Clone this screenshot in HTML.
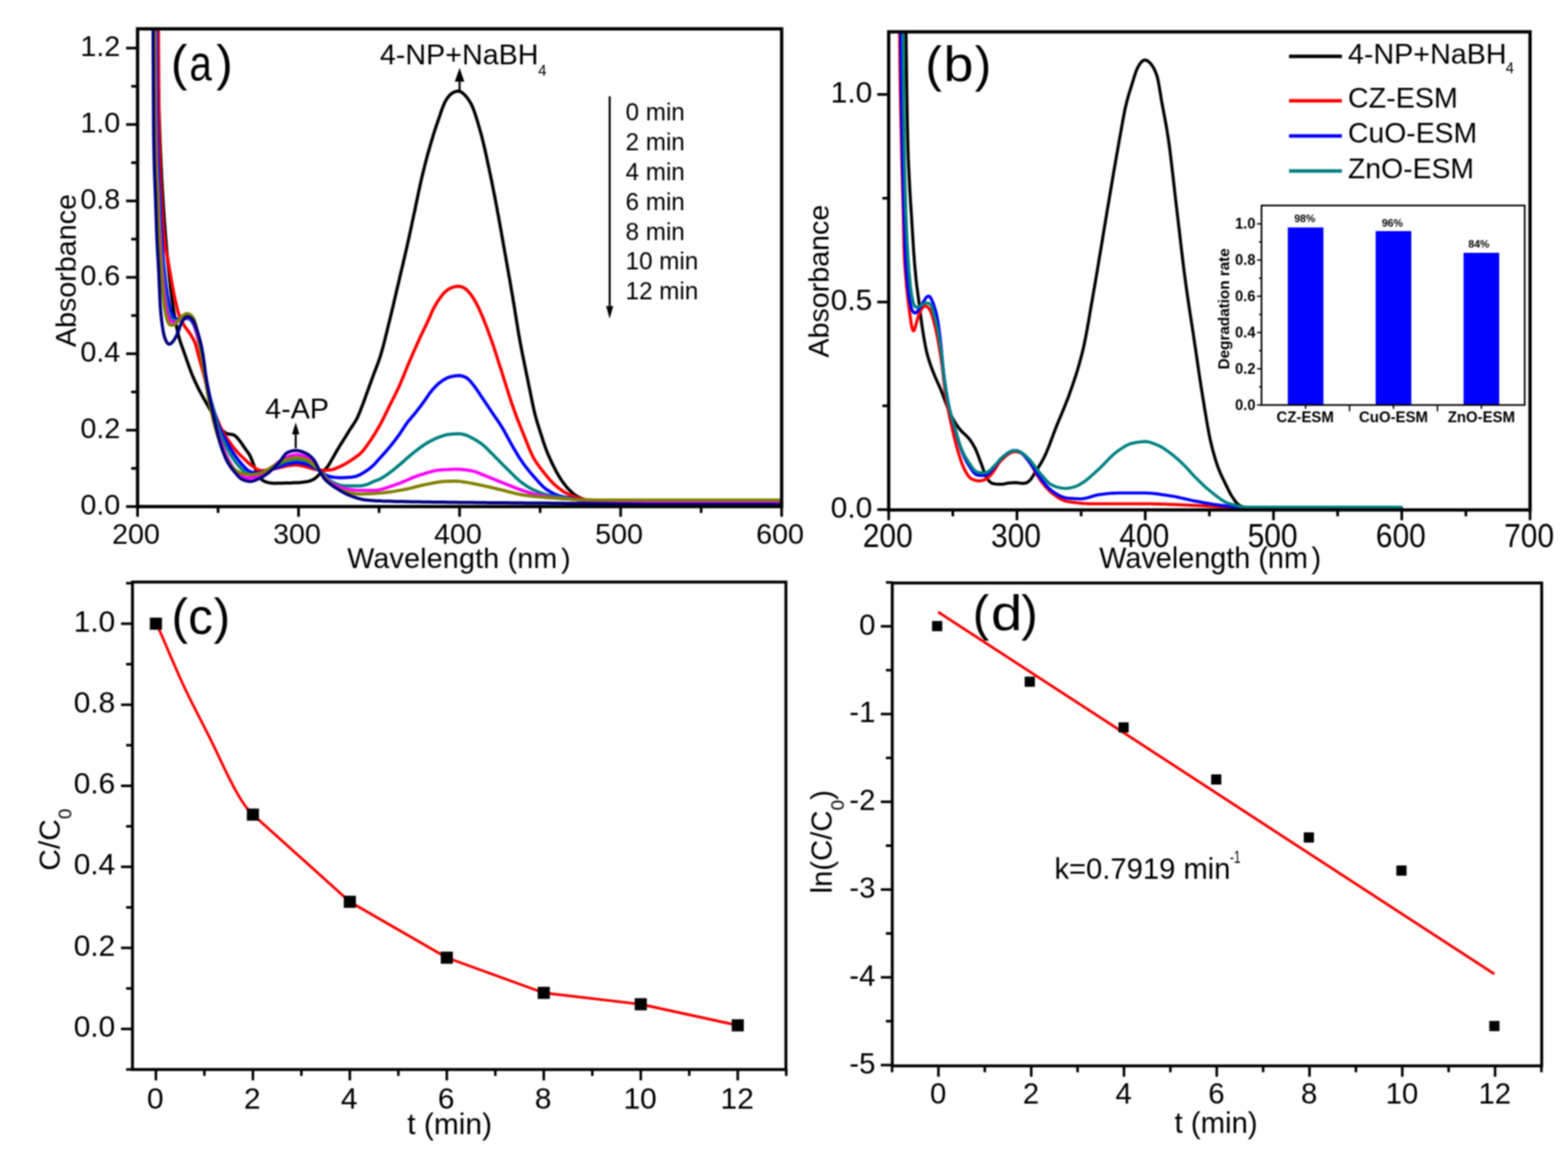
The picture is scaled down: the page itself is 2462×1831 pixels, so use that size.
<!DOCTYPE html>
<html><head><meta charset="utf-8"><title>Figure</title>
<style>html,body{margin:0;padding:0;background:#fff;overflow:hidden;} svg{display:block;filter:blur(1px)} text{font-family:'Liberation Sans',Arial,sans-serif;fill:#000}</style>
</head><body>
<svg width="2462" height="1831" viewBox="0 0 2462 1831">
<rect width="2462" height="1831" fill="#fff"/>
<clipPath id="ca"><rect x="216.0" y="45.3" width="1011.3" height="750.2"/></clipPath>
<clipPath id="cb"><rect x="1395.4" y="50.0" width="1007.0" height="750.8"/></clipPath>
<g id="pa">
<path d="M245.3,-74.5 L245.4,-71.5 L245.4,-68.5 L245.4,-65.5 L245.5,-62.5 L245.5,-59.5 L245.6,-56.5 L245.6,-53.5 L245.6,-50.5 L245.7,-47.5 L245.7,-44.5 L245.8,-41.5 L245.8,-38.5 L245.9,-35.5 L245.9,-32.5 L245.9,-29.5 L246.0,-26.5 L246.0,-23.5 L246.1,-20.5 L246.1,-17.5 L246.1,-14.5 L246.2,-11.5 L246.2,-8.5 L246.3,-5.5 L246.3,-2.5 L246.4,0.5 L246.4,3.5 L246.5,6.5 L246.5,9.5 L246.5,12.5 L246.6,15.5 L246.6,18.5 L246.7,21.5 L246.7,24.5 L246.8,27.5 L246.8,30.5 L246.9,33.5 L246.9,36.5 L247.0,39.5 L247.0,42.5 L247.1,45.5 L247.1,48.5 L247.2,51.5 L247.2,54.5 L247.3,57.5 L247.3,60.5 L247.4,63.5 L247.4,66.5 L247.5,69.5 L247.5,72.5 L247.6,75.5 L247.7,78.5 L247.7,81.5 L247.8,84.5 L247.8,87.5 L247.9,90.5 L248.0,93.5 L248.0,96.5 L248.1,99.5 L248.1,102.5 L248.2,105.5 L248.3,108.5 L248.3,111.5 L248.4,114.5 L248.4,117.5 L248.5,120.5 L248.6,123.5 L248.6,126.5 L248.7,129.5 L248.8,132.5 L248.8,135.5 L248.9,138.5 L249.0,141.5 L249.0,144.5 L249.1,147.5 L249.2,150.5 L249.2,153.5 L249.3,156.5 L249.4,159.5 L249.5,162.5 L249.5,165.5 L249.6,168.5 L249.7,171.5 L249.8,174.5 L249.9,177.5 L249.9,180.5 L250.0,183.5 L250.1,186.5 L250.2,189.5 L250.3,192.5 L250.4,195.4 L250.5,198.4 L250.6,201.4 L250.7,204.4 L250.8,207.4 L250.9,210.4 L251.0,213.4 L251.1,216.4 L251.2,219.4 L251.3,222.4 L251.4,225.4 L251.6,228.4 L251.7,231.4 L251.8,234.4 L251.9,237.4 L252.1,240.4 L252.2,243.4 L252.3,246.4 L252.5,249.4 L252.6,252.4 L252.7,255.4 L252.9,258.4 L253.0,261.4 L253.2,264.4 L253.3,267.4 L253.5,270.4 L253.6,273.4 L253.8,276.4 L253.9,279.4 L254.1,282.4 L254.2,285.4 L254.4,288.4 L254.6,291.4 L254.7,294.4 L254.9,297.3 L255.1,300.3 L255.3,303.3 L255.4,306.3 L255.6,309.3 L255.8,312.3 L256.0,315.3 L256.2,318.3 L256.4,321.3 L256.6,324.3 L256.8,327.3 L257.0,330.3 L257.2,333.3 L257.4,336.3 L257.6,339.3 L257.8,342.3 L258.0,345.2 L258.2,348.2 L258.5,351.2 L258.7,354.2 L258.9,357.2 L259.1,360.2 L259.4,363.2 L259.6,366.2 L259.8,369.2 L260.0,372.2 L260.3,375.2 L260.5,378.1 L260.8,381.1 L261.0,384.1 L261.3,387.1 L261.5,390.1 L261.8,393.1 L262.1,396.1 L262.3,399.1 L262.6,402.1 L262.9,405.0 L263.2,408.0 L263.5,411.0 L263.8,414.0 L264.1,417.0 L264.4,420.0 L264.7,423.0 L265.0,425.9 L265.3,428.9 L265.6,431.9 L265.9,434.9 L266.2,437.9 L266.5,440.9 L266.9,443.8 L267.2,446.8 L267.5,449.8 L267.9,452.8 L268.2,455.8 L268.6,458.7 L269.0,461.7 L269.3,464.7 L269.7,467.7 L270.1,470.6 L270.5,473.6 L271.0,476.6 L271.4,479.6 L271.9,482.5 L272.3,485.5 L272.8,488.4 L273.3,491.4 L273.8,494.4 L274.3,497.3 L274.8,500.3 L275.3,503.2 L275.9,506.2 L276.4,509.1 L277.0,512.1 L277.6,515.0 L278.3,517.9 L278.9,520.9 L279.6,523.8 L280.3,526.7 L281.1,529.6 L281.9,532.5 L282.8,535.4 L283.7,538.2 L284.7,541.1 L285.6,543.9 L286.7,546.7 L287.7,549.5 L288.7,552.3 L289.7,555.2 L290.7,558.0 L291.7,560.8 L292.6,563.7 L293.6,566.5 L294.6,569.4 L295.6,572.2 L296.6,575.0 L297.6,577.8 L298.7,580.6 L299.7,583.4 L300.8,586.2 L301.9,589.0 L303.1,591.8 L304.3,594.6 L305.5,597.3 L306.7,600.0 L308.0,602.8 L309.3,605.5 L310.6,608.2 L311.9,610.9 L313.3,613.5 L314.7,616.2 L316.1,618.8 L317.6,621.4 L319.0,624.1 L320.5,626.7 L322.0,629.3 L323.5,631.9 L324.9,634.5 L326.4,637.1 L327.9,639.7 L329.4,642.3 L330.9,644.9 L332.4,647.5 L333.8,650.2 L335.1,652.8 L336.5,655.5 L337.8,658.2 L339.1,660.9 L340.4,663.6 L341.9,666.2 L343.5,668.7 L345.3,671.2 L347.1,673.5 L349.1,675.8 L351.3,677.8 L353.7,679.6 L356.3,680.9 L359.1,681.6 L362.1,682.0 L365.0,682.4 L367.8,683.4 L370.1,685.1 L372.2,687.3 L374.2,689.5 L376.1,691.8 L377.9,694.2 L379.6,696.7 L381.3,699.2 L382.9,701.7 L384.7,704.1 L386.4,706.6 L388.2,709.0 L390.0,711.4 L391.6,713.9 L393.0,716.6 L394.3,719.3 L395.4,722.1 L396.4,724.9 L397.5,727.7 L398.5,730.5 L399.6,733.3 L400.7,736.1 L401.8,738.9 L403.0,741.6 L404.3,744.3 L405.8,746.9 L407.5,749.4 L409.5,751.6 L411.6,753.7 L414.1,755.3 L416.8,756.5 L419.6,757.4 L422.6,758.1 L425.5,758.6 L428.5,758.8 L431.5,758.9 L434.5,758.8 L437.5,758.8 L440.5,758.7 L443.5,758.7 L446.5,758.6 L449.5,758.5 L452.5,758.4 L455.5,758.4 L458.5,758.3 L461.5,758.1 L464.5,758.0 L467.5,757.9 L470.5,757.7 L473.5,757.4 L476.4,757.1 L479.4,756.7 L482.4,756.2 L485.3,755.6 L488.1,754.6 L490.9,753.5 L493.5,752.0 L495.9,750.3 L498.1,748.2 L500.2,746.1 L502.3,744.0 L504.6,742.0 L506.9,740.1 L509.2,738.2 L511.4,736.2 L513.4,734.0 L515.2,731.6 L516.8,729.0 L518.3,726.4 L519.8,723.8 L521.3,721.2 L522.8,718.6 L524.3,716.0 L525.7,713.4 L527.2,710.8 L528.7,708.2 L530.2,705.6 L531.8,703.0 L533.3,700.5 L534.9,697.9 L536.5,695.4 L538.1,692.9 L539.7,690.3 L541.3,687.8 L542.9,685.2 L544.4,682.7 L546.0,680.1 L547.6,677.5 L549.2,675.0 L550.8,672.5 L552.5,670.0 L554.2,667.5 L555.8,665.0 L557.4,662.5 L558.9,659.9 L560.4,657.3 L561.7,654.6 L562.9,651.8 L564.1,649.1 L565.2,646.3 L566.3,643.5 L567.4,640.7 L568.5,637.9 L569.6,635.1 L570.6,632.3 L571.7,629.5 L572.7,626.7 L573.7,623.8 L574.7,621.0 L575.7,618.2 L576.7,615.4 L577.7,612.5 L578.8,609.7 L579.8,606.9 L580.8,604.1 L581.8,601.3 L582.9,598.4 L583.9,595.6 L584.9,592.8 L585.9,590.0 L587.0,587.2 L588.0,584.4 L589.1,581.6 L590.2,578.8 L591.3,576.0 L592.3,573.2 L593.4,570.4 L594.4,567.5 L595.4,564.7 L596.4,561.9 L597.3,559.0 L598.2,556.1 L599.0,553.3 L599.8,550.4 L600.6,547.5 L601.4,544.6 L602.2,541.7 L602.9,538.8 L603.7,535.9 L604.4,533.0 L605.1,530.1 L605.8,527.1 L606.6,524.2 L607.3,521.3 L608.0,518.4 L608.7,515.5 L609.4,512.6 L610.1,509.7 L610.8,506.8 L611.6,503.8 L612.3,500.9 L613.0,498.0 L613.7,495.1 L614.4,492.2 L615.1,489.3 L615.8,486.3 L616.5,483.4 L617.2,480.5 L617.9,477.6 L618.5,474.7 L619.2,471.7 L619.9,468.8 L620.6,465.9 L621.3,463.0 L622.0,460.1 L622.6,457.1 L623.3,454.2 L624.0,451.3 L624.7,448.4 L625.4,445.5 L626.1,442.5 L626.8,439.6 L627.4,436.7 L628.1,433.8 L628.8,430.9 L629.5,427.9 L630.2,425.0 L630.9,422.1 L631.6,419.2 L632.3,416.3 L633.0,413.3 L633.6,410.4 L634.3,407.5 L635.0,404.6 L635.7,401.6 L636.4,398.7 L637.0,395.8 L637.7,392.9 L638.4,390.0 L639.0,387.0 L639.7,384.1 L640.3,381.2 L641.0,378.2 L641.6,375.3 L642.3,372.4 L642.9,369.4 L643.5,366.5 L644.2,363.6 L644.8,360.7 L645.4,357.7 L646.1,354.8 L646.7,351.8 L647.3,348.9 L647.9,346.0 L648.6,343.0 L649.2,340.1 L649.8,337.2 L650.4,334.2 L651.1,331.3 L651.7,328.4 L652.3,325.4 L652.9,322.5 L653.5,319.6 L654.1,316.6 L654.8,313.7 L655.4,310.8 L656.0,307.8 L656.6,304.9 L657.2,301.9 L657.8,299.0 L658.5,296.1 L659.1,293.1 L659.7,290.2 L660.4,287.3 L661.1,284.4 L661.7,281.4 L662.4,278.5 L663.1,275.6 L663.8,272.7 L664.5,269.8 L665.2,266.9 L666.0,263.9 L666.7,261.0 L667.4,258.1 L668.2,255.2 L668.9,252.3 L669.7,249.4 L670.5,246.5 L671.2,243.6 L672.0,240.7 L672.8,237.8 L673.7,234.9 L674.5,232.1 L675.3,229.2 L676.1,226.3 L677.0,223.4 L677.8,220.5 L678.7,217.7 L679.6,214.8 L680.4,211.9 L681.3,209.1 L682.2,206.2 L683.2,203.3 L684.1,200.5 L685.0,197.7 L686.0,194.8 L687.0,192.0 L688.0,189.1 L688.9,186.3 L689.9,183.5 L690.9,180.6 L691.8,177.8 L692.8,174.9 L693.8,172.1 L694.9,169.3 L695.9,166.5 L697.1,163.7 L698.3,161.0 L699.7,158.3 L701.2,155.8 L702.9,153.3 L704.8,151.0 L706.8,148.8 L709.1,146.8 L711.6,145.3 L714.3,144.1 L717.2,143.3 L720.1,143.1 L722.9,143.8 L725.4,145.3 L727.6,147.2 L729.8,149.3 L731.9,151.5 L733.7,153.8 L735.5,156.2 L737.1,158.8 L738.7,161.3 L740.1,164.0 L741.4,166.7 L742.5,169.4 L743.6,172.2 L744.7,175.0 L745.7,177.9 L746.6,180.7 L747.5,183.6 L748.4,186.4 L749.3,189.3 L750.2,192.2 L751.0,195.1 L751.8,198.0 L752.7,200.8 L753.5,203.7 L754.3,206.6 L755.1,209.5 L755.9,212.4 L756.7,215.3 L757.4,218.2 L758.1,221.1 L758.8,224.0 L759.5,226.9 L760.2,229.9 L760.9,232.8 L761.6,235.7 L762.2,238.6 L762.9,241.6 L763.5,244.5 L764.1,247.4 L764.8,250.4 L765.4,253.3 L766.0,256.2 L766.6,259.2 L767.3,262.1 L767.9,265.0 L768.5,268.0 L769.2,270.9 L769.8,273.8 L770.4,276.8 L771.0,279.7 L771.6,282.7 L772.2,285.6 L772.8,288.5 L773.4,291.5 L774.0,294.4 L774.5,297.4 L775.1,300.3 L775.7,303.2 L776.3,306.2 L776.9,309.1 L777.4,312.1 L778.0,315.0 L778.6,318.0 L779.1,320.9 L779.7,323.9 L780.2,326.8 L780.8,329.8 L781.3,332.7 L781.9,335.7 L782.4,338.6 L783.0,341.6 L783.5,344.5 L784.0,347.5 L784.6,350.4 L785.1,353.4 L785.6,356.3 L786.1,359.3 L786.7,362.2 L787.2,365.2 L787.7,368.1 L788.2,371.1 L788.8,374.0 L789.3,377.0 L789.8,380.0 L790.3,382.9 L790.8,385.9 L791.4,388.8 L791.9,391.8 L792.4,394.7 L792.9,397.7 L793.5,400.6 L794.0,403.6 L794.5,406.5 L795.0,409.5 L795.6,412.5 L796.1,415.4 L796.6,418.4 L797.1,421.3 L797.7,424.3 L798.2,427.2 L798.7,430.2 L799.2,433.1 L799.7,436.1 L800.3,439.0 L800.8,442.0 L801.3,444.9 L801.8,447.9 L802.3,450.9 L802.8,453.8 L803.3,456.8 L803.8,459.7 L804.4,462.7 L804.9,465.6 L805.4,468.6 L805.8,471.6 L806.3,474.5 L806.8,477.5 L807.3,480.4 L807.8,483.4 L808.3,486.4 L808.7,489.3 L809.2,492.3 L809.7,495.3 L810.2,498.2 L810.6,501.2 L811.1,504.1 L811.6,507.1 L812.1,510.1 L812.6,513.0 L813.0,516.0 L813.5,518.9 L814.0,521.9 L814.5,524.9 L815.1,527.8 L815.6,530.8 L816.1,533.7 L816.6,536.7 L817.2,539.6 L817.7,542.6 L818.3,545.5 L818.9,548.5 L819.4,551.4 L820.0,554.4 L820.6,557.3 L821.2,560.2 L821.8,563.2 L822.4,566.1 L823.0,569.1 L823.6,572.0 L824.2,574.9 L824.8,577.9 L825.4,580.8 L826.0,583.8 L826.6,586.7 L827.2,589.6 L827.8,592.6 L828.4,595.5 L829.0,598.4 L829.6,601.4 L830.2,604.3 L830.8,607.3 L831.4,610.2 L832.0,613.1 L832.6,616.1 L833.2,619.0 L833.8,622.0 L834.4,624.9 L835.0,627.8 L835.6,630.8 L836.2,633.7 L836.8,636.7 L837.5,639.6 L838.1,642.5 L838.8,645.4 L839.5,648.4 L840.2,651.3 L841.0,654.2 L841.8,657.1 L842.6,660.0 L843.4,662.8 L844.3,665.7 L845.2,668.6 L846.1,671.4 L847.0,674.3 L847.9,677.1 L848.8,680.0 L849.8,682.8 L850.7,685.7 L851.6,688.6 L852.5,691.4 L853.4,694.3 L854.4,697.1 L855.4,700.0 L856.4,702.8 L857.4,705.6 L858.5,708.4 L859.6,711.2 L860.8,713.9 L862.0,716.7 L863.2,719.4 L864.4,722.2 L865.7,724.9 L867.0,727.6 L868.3,730.3 L869.6,733.0 L871.0,735.7 L872.3,738.3 L873.7,741.0 L875.2,743.6 L876.7,746.2 L878.3,748.8 L879.9,751.3 L881.5,753.8 L883.2,756.3 L885.0,758.7 L886.8,761.1 L888.6,763.5 L890.5,765.8 L892.6,768.0 L894.7,770.1 L896.8,772.2 L899.1,774.2 L901.4,776.1 L903.8,777.9 L906.3,779.5 L908.9,780.9 L911.7,782.1 L914.5,783.3 L917.3,784.2 L920.2,785.1 L923.1,785.7 L926.1,786.2 L929.0,786.6 L932.0,786.9 L935.0,787.2 L938.0,787.5 L941.0,787.7 L944.0,788.0 L947.0,788.2 L949.9,788.3 L952.9,788.5 L955.9,788.7 L958.9,788.9 L961.9,789.1 L964.9,789.2 L967.9,789.4 L970.9,789.4 L973.9,789.5 L976.9,789.5 L979.9,789.5 L982.9,789.5 L985.9,789.5 L988.9,789.5 L991.9,789.5 L994.9,789.5 L997.9,789.5 L1000.9,789.5 L1003.9,789.5 L1006.9,789.5 L1009.9,789.5 L1012.9,789.5 L1015.9,789.5 L1018.9,789.5 L1021.9,789.5 L1024.9,789.5 L1027.9,789.5 L1030.9,789.5 L1033.9,789.5 L1036.9,789.5 L1039.9,789.5 L1042.9,789.5 L1045.9,789.5 L1048.9,789.5 L1051.9,789.5 L1054.9,789.5 L1057.9,789.5 L1060.9,789.5 L1063.9,789.5 L1066.9,789.5 L1069.9,789.5 L1072.9,789.5 L1075.9,789.5 L1078.9,789.5 L1081.9,789.5 L1084.9,789.5 L1087.9,789.5 L1090.9,789.5 L1093.9,789.5 L1096.9,789.5 L1099.9,789.5 L1102.9,789.5 L1105.9,789.5 L1108.9,789.5 L1111.9,789.5 L1114.9,789.5 L1117.9,789.5 L1120.9,789.5 L1123.9,789.5 L1126.9,789.5 L1129.9,789.5 L1132.9,789.5 L1135.9,789.5 L1138.9,789.5 L1141.9,789.5 L1144.9,789.5 L1147.9,789.5 L1150.9,789.5 L1153.9,789.5 L1156.9,789.5 L1159.9,789.5 L1162.9,789.5 L1165.9,789.5 L1168.9,789.5 L1171.9,789.5 L1174.9,789.5 L1177.9,789.5 L1180.9,789.5 L1183.9,789.5 L1186.9,789.5 L1189.9,789.5 L1192.9,789.5 L1195.9,789.5 L1198.9,789.5 L1201.9,789.5 L1204.9,789.5 L1207.9,789.5 L1210.9,789.5 L1213.9,789.5 L1216.9,789.5 L1219.9,789.5 L1222.9,789.5 L1225.9,789.5 L1226.9,789.5" fill="none" stroke="#000000" stroke-width="5.0" stroke-linejoin="round" stroke-linecap="round" clip-path="url(#ca)"/>
<path d="M247.9,-74.5 L247.9,-71.5 L247.9,-68.5 L247.9,-65.5 L247.9,-62.5 L248.0,-59.5 L248.0,-56.5 L248.0,-53.5 L248.0,-50.5 L248.0,-47.5 L248.1,-44.5 L248.1,-41.5 L248.1,-38.5 L248.1,-35.5 L248.1,-32.5 L248.1,-29.5 L248.2,-26.5 L248.2,-23.5 L248.2,-20.5 L248.2,-17.5 L248.2,-14.5 L248.3,-11.5 L248.3,-8.5 L248.3,-5.5 L248.3,-2.5 L248.3,0.5 L248.4,3.5 L248.4,6.5 L248.4,9.5 L248.4,12.5 L248.4,15.5 L248.5,18.5 L248.5,21.5 L248.5,24.5 L248.5,27.5 L248.6,30.5 L248.6,33.5 L248.6,36.5 L248.6,39.5 L248.6,42.5 L248.7,45.5 L248.7,48.5 L248.7,51.5 L248.7,54.5 L248.7,57.5 L248.8,60.5 L248.8,63.5 L248.8,66.5 L248.8,69.5 L248.8,72.5 L248.9,75.5 L248.9,78.5 L248.9,81.5 L248.9,84.5 L248.9,87.5 L249.0,90.5 L249.0,93.5 L249.0,96.5 L249.0,99.5 L249.0,102.5 L249.1,105.5 L249.1,108.5 L249.1,111.5 L249.1,114.5 L249.1,117.5 L249.2,120.5 L249.2,123.5 L249.2,126.5 L249.2,129.5 L249.2,132.5 L249.3,135.5 L249.3,138.5 L249.3,141.5 L249.3,144.5 L249.3,147.5 L249.4,150.5 L249.4,153.5 L249.4,156.5 L249.4,159.5 L249.4,162.5 L249.5,165.5 L249.5,168.5 L249.5,171.5 L249.5,174.5 L249.5,177.5 L249.6,180.5 L249.6,183.5 L249.6,186.5 L249.6,189.5 L249.7,192.5 L249.7,195.5 L249.8,198.5 L249.8,201.5 L249.8,204.5 L249.9,207.5 L249.9,210.5 L250.0,213.5 L250.0,216.5 L250.1,219.5 L250.2,222.5 L250.2,225.5 L250.3,228.5 L250.4,231.5 L250.4,234.5 L250.5,237.5 L250.6,240.5 L250.7,243.5 L250.8,246.5 L250.8,249.5 L250.9,252.5 L251.0,255.5 L251.1,258.5 L251.2,261.5 L251.3,264.5 L251.4,267.5 L251.6,270.5 L251.7,273.5 L251.8,276.5 L251.9,279.5 L252.1,282.5 L252.2,285.5 L252.4,288.4 L252.5,291.4 L252.7,294.4 L252.9,297.4 L253.1,300.4 L253.2,303.4 L253.4,306.4 L253.6,309.4 L253.7,312.4 L253.9,315.4 L254.1,318.4 L254.3,321.4 L254.4,324.4 L254.6,327.4 L254.8,330.4 L254.9,333.4 L255.1,336.4 L255.3,339.4 L255.5,342.4 L255.7,345.4 L255.9,348.3 L256.1,351.3 L256.3,354.3 L256.5,357.3 L256.7,360.3 L257.0,363.3 L257.2,366.3 L257.5,369.3 L257.7,372.3 L258.1,375.3 L258.4,378.2 L258.8,381.2 L259.2,384.2 L259.6,387.2 L260.1,390.1 L260.6,393.1 L261.2,396.0 L261.8,399.0 L262.4,401.9 L263.0,404.8 L263.6,407.8 L264.1,410.7 L264.6,413.7 L265.1,416.6 L265.6,419.6 L266.1,422.6 L266.6,425.5 L267.1,428.5 L267.6,431.4 L268.1,434.4 L268.6,437.3 L269.1,440.3 L269.7,443.3 L270.2,446.2 L270.8,449.2 L271.3,452.1 L271.9,455.0 L272.4,458.0 L273.0,460.9 L273.6,463.9 L274.2,466.8 L274.8,469.8 L275.4,472.7 L276.1,475.6 L276.8,478.5 L277.5,481.5 L278.2,484.4 L278.9,487.3 L279.7,490.2 L280.5,493.1 L281.5,495.9 L282.6,498.7 L283.9,501.4 L285.2,504.1 L286.7,506.7 L288.2,509.3 L289.7,511.9 L291.4,514.4 L293.1,516.8 L294.9,519.2 L296.7,521.6 L298.4,524.1 L300.0,526.6 L301.6,529.2 L303.1,531.7 L304.5,534.4 L305.8,537.1 L306.8,539.9 L307.7,542.8 L308.4,545.7 L309.1,548.6 L309.9,551.5 L310.6,554.4 L311.4,557.3 L312.2,560.2 L313.0,563.1 L313.8,566.0 L314.6,568.9 L315.4,571.8 L316.2,574.7 L317.0,577.6 L317.8,580.4 L318.6,583.3 L319.4,586.2 L320.2,589.1 L320.9,592.0 L321.7,594.9 L322.4,597.9 L323.0,600.8 L323.7,603.7 L324.3,606.6 L325.0,609.6 L325.6,612.5 L326.3,615.4 L327.0,618.3 L327.7,621.3 L328.4,624.2 L329.2,627.1 L330.1,629.9 L330.9,632.8 L331.8,635.7 L332.8,638.5 L333.8,641.3 L334.9,644.1 L336.1,646.9 L337.3,649.6 L338.5,652.4 L339.6,655.2 L340.8,657.9 L341.9,660.7 L343.1,663.5 L344.3,666.2 L345.5,669.0 L346.7,671.7 L348.1,674.4 L349.5,677.0 L351.0,679.6 L352.5,682.2 L354.1,684.7 L355.7,687.3 L357.4,689.8 L359.1,692.2 L360.8,694.7 L362.5,697.1 L364.3,699.6 L366.1,701.9 L368.0,704.3 L369.9,706.6 L371.9,708.9 L373.9,711.1 L375.9,713.3 L378.0,715.4 L380.2,717.5 L382.3,719.6 L384.5,721.7 L386.7,723.7 L388.9,725.8 L391.1,727.8 L393.4,729.7 L395.8,731.5 L398.2,733.3 L400.7,735.0 L403.2,736.7 L405.8,738.0 L408.6,738.8 L411.6,739.0 L414.6,738.8 L417.6,738.5 L420.5,738.1 L423.5,737.7 L426.5,737.1 L429.4,736.5 L432.3,735.9 L435.3,735.2 L438.2,734.5 L441.1,733.8 L444.0,733.1 L446.9,732.4 L449.8,731.8 L452.8,731.3 L455.8,730.9 L458.8,730.5 L461.7,730.3 L464.7,730.2 L467.7,730.3 L470.7,730.7 L473.6,731.3 L476.5,732.1 L479.4,732.8 L482.3,733.6 L485.2,734.3 L488.1,735.1 L491.0,736.0 L493.9,736.8 L496.8,737.5 L499.8,738.0 L502.7,738.3 L505.7,738.4 L508.7,738.5 L511.7,738.4 L514.7,738.3 L517.7,738.0 L520.7,737.6 L523.6,736.8 L526.4,735.8 L529.2,734.7 L531.9,733.6 L534.7,732.3 L537.4,731.0 L540.0,729.6 L542.6,728.2 L545.2,726.6 L547.8,725.1 L550.3,723.5 L552.8,721.8 L555.3,720.1 L557.7,718.4 L560.2,716.6 L562.6,714.9 L564.9,713.0 L567.1,710.9 L569.1,708.7 L571.0,706.4 L572.9,704.0 L574.7,701.6 L576.5,699.2 L578.2,696.8 L579.9,694.3 L581.6,691.9 L583.3,689.4 L584.9,686.8 L586.5,684.3 L588.1,681.8 L589.7,679.2 L591.2,676.6 L592.7,674.0 L594.2,671.4 L595.7,668.8 L597.2,666.2 L598.6,663.6 L600.0,660.9 L601.3,658.2 L602.7,655.6 L604.0,652.9 L605.3,650.2 L606.6,647.5 L608.0,644.8 L609.3,642.1 L610.6,639.4 L611.9,636.7 L613.3,634.0 L614.6,631.3 L616.0,628.7 L617.3,626.0 L618.7,623.3 L620.0,620.6 L621.4,617.9 L622.7,615.2 L624.0,612.5 L625.3,609.8 L626.5,607.1 L627.8,604.4 L629.0,601.6 L630.1,598.9 L631.3,596.1 L632.4,593.3 L633.5,590.5 L634.7,587.7 L635.8,585.0 L636.9,582.2 L638.0,579.4 L639.2,576.6 L640.3,573.9 L641.5,571.1 L642.7,568.3 L643.9,565.6 L645.1,562.8 L646.2,560.1 L647.4,557.3 L648.6,554.6 L649.8,551.8 L651.0,549.1 L652.3,546.3 L653.5,543.6 L654.7,540.9 L655.9,538.1 L657.2,535.4 L658.4,532.6 L659.6,529.9 L660.9,527.2 L662.2,524.5 L663.4,521.8 L664.7,519.1 L666.0,516.4 L667.4,513.7 L668.7,511.0 L670.0,508.3 L671.3,505.5 L672.5,502.8 L673.8,500.1 L675.0,497.3 L676.1,494.6 L677.3,491.8 L678.5,489.1 L679.8,486.4 L681.1,483.7 L682.6,481.0 L684.1,478.4 L685.6,475.9 L687.2,473.4 L688.9,470.9 L690.6,468.4 L692.4,466.0 L694.2,463.6 L696.1,461.3 L698.2,459.1 L700.4,457.1 L702.8,455.3 L705.2,453.6 L707.9,452.3 L710.7,451.2 L713.6,450.4 L716.5,449.8 L719.5,449.5 L722.4,449.8 L725.3,450.6 L728.0,451.8 L730.5,453.3 L732.9,455.2 L735.0,457.3 L736.9,459.6 L738.8,461.9 L740.6,464.3 L742.3,466.8 L743.9,469.3 L745.4,471.9 L746.9,474.5 L748.3,477.1 L749.7,479.8 L751.0,482.5 L752.3,485.2 L753.5,488.0 L754.7,490.7 L755.9,493.4 L757.1,496.2 L758.3,499.0 L759.4,501.7 L760.5,504.5 L761.6,507.3 L762.7,510.1 L763.8,512.9 L764.9,515.7 L765.9,518.5 L767.0,521.3 L768.0,524.2 L769.0,527.0 L770.0,529.8 L771.0,532.6 L772.0,535.5 L773.0,538.3 L774.0,541.1 L775.0,544.0 L775.9,546.8 L776.8,549.7 L777.8,552.5 L778.7,555.4 L779.6,558.2 L780.5,561.1 L781.4,563.9 L782.3,566.8 L783.2,569.7 L784.1,572.5 L785.0,575.4 L786.0,578.2 L786.9,581.1 L787.8,584.0 L788.7,586.8 L789.6,589.7 L790.5,592.5 L791.4,595.4 L792.3,598.3 L793.2,601.1 L794.1,604.0 L795.0,606.9 L795.9,609.7 L796.8,612.6 L797.7,615.4 L798.6,618.3 L799.5,621.2 L800.4,624.0 L801.3,626.9 L802.3,629.7 L803.2,632.6 L804.2,635.4 L805.2,638.2 L806.2,641.1 L807.2,643.9 L808.2,646.7 L809.2,649.5 L810.3,652.3 L811.3,655.1 L812.4,657.9 L813.5,660.7 L814.6,663.5 L815.7,666.3 L816.8,669.1 L817.9,671.9 L819.0,674.7 L820.2,677.5 L821.3,680.2 L822.4,683.0 L823.5,685.8 L824.7,688.6 L825.8,691.4 L826.9,694.2 L828.0,697.0 L829.1,699.7 L830.2,702.5 L831.4,705.3 L832.5,708.1 L833.8,710.8 L835.0,713.5 L836.3,716.2 L837.7,718.9 L839.2,721.5 L840.8,724.0 L842.4,726.5 L844.1,729.0 L845.9,731.4 L847.7,733.9 L849.5,736.2 L851.3,738.6 L853.2,741.0 L855.0,743.3 L856.9,745.7 L858.8,748.0 L860.7,750.3 L862.6,752.6 L864.6,754.9 L866.7,757.0 L868.8,759.1 L871.0,761.2 L873.3,763.2 L875.6,765.1 L877.9,767.0 L880.3,768.8 L882.7,770.5 L885.3,772.1 L887.9,773.6 L890.5,775.0 L893.2,776.3 L896.0,777.5 L898.8,778.6 L901.6,779.6 L904.4,780.6 L907.3,781.5 L910.2,782.3 L913.1,783.1 L916.0,783.9 L918.9,784.6 L921.8,785.2 L924.8,785.8 L927.7,786.3 L930.7,786.7 L933.7,787.0 L936.6,787.3 L939.6,787.6 L942.6,787.8 L945.6,788.1 L948.6,788.3 L951.6,788.5 L954.6,788.6 L957.6,788.8 L960.6,789.0 L963.6,789.2 L966.6,789.3 L969.6,789.4 L972.6,789.5 L975.6,789.5 L978.6,789.5 L981.6,789.5 L984.6,789.5 L987.6,789.5 L990.6,789.5 L993.6,789.5 L996.6,789.5 L999.6,789.5 L1002.6,789.5 L1005.6,789.5 L1008.6,789.5 L1011.6,789.5 L1014.6,789.5 L1017.6,789.5 L1020.6,789.5 L1023.6,789.5 L1026.6,789.5 L1029.6,789.5 L1032.6,789.5 L1035.6,789.5 L1038.6,789.5 L1041.6,789.5 L1044.6,789.5 L1047.6,789.5 L1050.6,789.5 L1053.6,789.5 L1056.6,789.5 L1059.6,789.5 L1062.6,789.5 L1065.6,789.5 L1068.6,789.5 L1071.6,789.5 L1074.6,789.5 L1077.6,789.5 L1080.6,789.5 L1083.6,789.5 L1086.6,789.5 L1089.6,789.5 L1092.6,789.5 L1095.6,789.5 L1098.6,789.5 L1101.6,789.5 L1104.6,789.5 L1107.6,789.5 L1110.6,789.5 L1113.6,789.5 L1116.6,789.5 L1119.6,789.5 L1122.6,789.5 L1125.6,789.5 L1128.6,789.5 L1131.6,789.5 L1134.6,789.5 L1137.6,789.5 L1140.6,789.5 L1143.6,789.5 L1146.6,789.5 L1149.6,789.5 L1152.6,789.5 L1155.6,789.5 L1158.6,789.5 L1161.6,789.5 L1164.6,789.5 L1167.6,789.5 L1170.6,789.5 L1173.6,789.5 L1176.6,789.5 L1179.6,789.5 L1182.6,789.5 L1185.6,789.5 L1188.6,789.5 L1191.6,789.5 L1194.6,789.5 L1197.6,789.5 L1200.6,789.5 L1203.6,789.5 L1206.6,789.5 L1209.6,789.5 L1212.6,789.5 L1215.6,789.5 L1218.6,789.5 L1221.6,789.5 L1224.6,789.5 L1226.6,789.5" fill="none" stroke="#ff0000" stroke-width="5.0" stroke-linejoin="round" stroke-linecap="round" clip-path="url(#ca)"/>
<path d="M245.1,-74.5 L245.1,-71.5 L245.1,-68.5 L245.1,-65.5 L245.2,-62.5 L245.2,-59.5 L245.2,-56.5 L245.2,-53.5 L245.2,-50.5 L245.2,-47.5 L245.3,-44.5 L245.3,-41.5 L245.3,-38.5 L245.3,-35.5 L245.3,-32.5 L245.4,-29.5 L245.4,-26.5 L245.4,-23.5 L245.4,-20.5 L245.4,-17.5 L245.5,-14.5 L245.5,-11.5 L245.5,-8.5 L245.5,-5.5 L245.5,-2.5 L245.6,0.5 L245.6,3.5 L245.6,6.5 L245.6,9.5 L245.6,12.5 L245.7,15.5 L245.7,18.5 L245.7,21.5 L245.7,24.5 L245.8,27.5 L245.8,30.5 L245.8,33.5 L245.8,36.5 L245.8,39.5 L245.9,42.5 L245.9,45.5 L245.9,48.5 L245.9,51.5 L245.9,54.5 L246.0,57.5 L246.0,60.5 L246.0,63.5 L246.0,66.5 L246.0,69.5 L246.1,72.5 L246.1,75.5 L246.1,78.5 L246.1,81.5 L246.1,84.5 L246.2,87.5 L246.2,90.5 L246.2,93.5 L246.2,96.5 L246.2,99.5 L246.3,102.5 L246.3,105.5 L246.3,108.5 L246.3,111.5 L246.3,114.5 L246.4,117.5 L246.4,120.5 L246.4,123.5 L246.4,126.5 L246.4,129.5 L246.5,132.5 L246.5,135.5 L246.5,138.5 L246.5,141.5 L246.5,144.5 L246.6,147.5 L246.6,150.5 L246.6,153.5 L246.6,156.5 L246.6,159.5 L246.7,162.5 L246.7,165.5 L246.7,168.5 L246.7,171.5 L246.7,174.5 L246.8,177.5 L246.8,180.5 L246.8,183.5 L246.8,186.5 L246.9,189.5 L246.9,192.5 L246.9,195.5 L247.0,198.5 L247.0,201.5 L247.0,204.5 L247.1,207.5 L247.1,210.5 L247.2,213.5 L247.3,216.5 L247.3,219.5 L247.4,222.5 L247.5,225.5 L247.5,228.5 L247.6,231.5 L247.7,234.5 L247.8,237.5 L247.9,240.5 L247.9,243.5 L248.0,246.5 L248.1,249.5 L248.2,252.5 L248.3,255.5 L248.5,258.5 L248.6,261.5 L248.7,264.5 L248.8,267.5 L249.0,270.5 L249.1,273.5 L249.3,276.5 L249.4,279.5 L249.6,282.4 L249.8,285.4 L249.9,288.4 L250.1,291.4 L250.3,294.4 L250.5,297.4 L250.6,300.4 L250.8,303.4 L251.0,306.4 L251.1,309.4 L251.3,312.4 L251.4,315.4 L251.5,318.4 L251.7,321.4 L251.8,324.4 L251.9,327.4 L252.1,330.4 L252.2,333.4 L252.3,336.4 L252.4,339.4 L252.6,342.4 L252.7,345.4 L252.9,348.4 L253.0,351.4 L253.1,354.4 L253.3,357.4 L253.4,360.4 L253.6,363.3 L253.7,366.3 L253.9,369.3 L254.0,372.3 L254.2,375.3 L254.4,378.3 L254.6,381.3 L254.8,384.3 L254.9,387.3 L255.1,390.3 L255.3,393.3 L255.6,396.3 L255.8,399.3 L256.0,402.3 L256.2,405.3 L256.5,408.3 L256.7,411.2 L257.0,414.2 L257.2,417.2 L257.5,420.2 L257.8,423.2 L258.1,426.2 L258.4,429.2 L258.7,432.1 L259.1,435.1 L259.4,438.1 L259.8,441.1 L260.2,444.1 L260.5,447.0 L260.9,450.0 L261.3,453.0 L261.8,455.9 L262.2,458.9 L262.6,461.9 L263.1,464.9 L263.6,467.8 L264.1,470.8 L264.7,473.7 L265.3,476.7 L265.9,479.6 L266.6,482.5 L267.3,485.4 L268.1,488.3 L269.1,491.1 L270.3,493.9 L271.7,496.5 L273.6,498.8 L275.9,500.3 L278.8,501.1 L281.7,501.3 L284.7,501.1 L287.6,500.6 L290.6,500.2 L293.6,500.0 L296.4,500.4 L298.8,501.8 L300.8,504.0 L302.5,506.5 L303.9,509.1 L305.1,511.8 L306.1,514.6 L307.0,517.5 L307.8,520.4 L308.6,523.3 L309.4,526.2 L310.2,529.1 L310.9,532.0 L311.7,534.9 L312.4,537.8 L313.1,540.7 L313.8,543.6 L314.5,546.6 L315.1,549.5 L315.7,552.4 L316.4,555.3 L317.0,558.3 L317.6,561.2 L318.2,564.2 L318.7,567.1 L319.3,570.1 L319.8,573.0 L320.4,576.0 L320.9,578.9 L321.4,581.9 L322.0,584.8 L322.5,587.8 L323.1,590.7 L323.6,593.7 L324.2,596.6 L324.7,599.6 L325.3,602.5 L325.9,605.5 L326.5,608.4 L327.0,611.3 L327.7,614.3 L328.3,617.2 L329.0,620.1 L329.7,623.0 L330.4,626.0 L331.2,628.9 L332.0,631.7 L332.8,634.6 L333.7,637.5 L334.5,640.4 L335.4,643.2 L336.3,646.1 L337.1,649.0 L338.0,651.9 L338.8,654.7 L339.7,657.6 L340.6,660.5 L341.5,663.3 L342.5,666.2 L343.5,669.0 L344.6,671.8 L345.9,674.5 L347.2,677.2 L348.5,679.9 L349.9,682.5 L351.3,685.2 L352.7,687.8 L354.1,690.5 L355.5,693.1 L357.0,695.8 L358.5,698.4 L359.9,701.0 L361.5,703.6 L363.0,706.1 L364.6,708.7 L366.3,711.2 L367.9,713.7 L369.6,716.2 L371.4,718.6 L373.2,721.0 L375.0,723.4 L376.9,725.7 L378.8,728.0 L380.8,730.3 L382.8,732.4 L384.9,734.6 L387.1,736.7 L389.3,738.6 L391.9,740.2 L394.6,741.3 L397.5,742.0 L400.5,742.4 L403.5,742.6 L406.4,742.3 L409.4,741.8 L412.3,741.2 L415.2,740.4 L418.1,739.7 L421.0,738.8 L423.8,737.9 L426.7,736.9 L429.5,736.0 L432.4,735.0 L435.2,734.0 L438.0,733.0 L440.8,731.9 L443.7,731.0 L446.5,730.1 L449.4,729.3 L452.3,728.6 L455.3,727.9 L458.2,727.3 L461.2,726.8 L464.1,726.6 L467.1,726.6 L470.1,726.9 L473.1,727.2 L476.0,727.8 L479.0,728.4 L481.9,729.1 L484.7,730.1 L487.4,731.3 L490.1,732.7 L492.7,734.1 L495.4,735.6 L498.0,737.0 L500.6,738.5 L503.1,740.1 L505.5,741.9 L507.9,743.7 L510.4,745.4 L513.0,746.7 L515.9,747.7 L518.7,748.5 L521.7,749.1 L524.6,749.5 L527.6,749.8 L530.6,750.0 L533.6,750.2 L536.6,750.2 L539.6,750.1 L542.6,750.0 L545.6,749.8 L548.6,749.6 L551.6,749.3 L554.6,748.9 L557.5,748.3 L560.4,747.5 L563.2,746.4 L565.9,745.1 L568.5,743.6 L571.0,742.1 L573.6,740.5 L576.0,738.8 L578.5,737.1 L580.9,735.2 L583.2,733.3 L585.4,731.3 L587.6,729.2 L589.6,727.1 L591.6,724.8 L593.6,722.6 L595.6,720.3 L597.6,718.1 L599.6,715.9 L601.7,713.7 L603.7,711.4 L605.7,709.2 L607.6,706.9 L609.6,704.7 L611.5,702.4 L613.4,700.0 L615.3,697.7 L617.1,695.3 L619.0,693.0 L620.8,690.6 L622.6,688.2 L624.4,685.8 L626.2,683.4 L627.9,680.9 L629.6,678.4 L631.2,675.9 L632.9,673.4 L634.5,670.9 L636.2,668.4 L637.8,665.9 L639.6,663.5 L641.4,661.1 L643.3,658.8 L645.3,656.5 L647.2,654.2 L649.2,652.0 L651.1,649.7 L653.0,647.3 L654.9,645.0 L656.7,642.6 L658.5,640.2 L660.3,637.8 L662.1,635.4 L663.9,633.0 L665.6,630.6 L667.4,628.1 L669.1,625.6 L670.8,623.2 L672.5,620.7 L674.2,618.2 L676.0,615.8 L677.9,613.5 L679.8,611.2 L681.9,609.0 L683.9,606.8 L686.0,604.7 L688.2,602.7 L690.5,600.8 L692.9,599.0 L695.4,597.3 L698.0,595.7 L700.6,594.3 L703.3,593.0 L706.1,592.0 L709.0,591.3 L712.0,590.7 L714.9,590.3 L717.9,589.9 L720.9,589.8 L723.9,590.1 L726.8,590.8 L729.6,591.8 L732.2,593.1 L734.7,594.9 L736.8,596.9 L738.8,599.1 L740.7,601.4 L742.6,603.8 L744.5,606.1 L746.3,608.5 L748.0,611.0 L749.7,613.4 L751.4,615.9 L753.0,618.4 L754.7,621.0 L756.3,623.4 L758.0,625.9 L759.7,628.4 L761.4,630.9 L763.1,633.4 L764.8,635.9 L766.4,638.4 L768.1,640.9 L769.8,643.3 L771.4,645.8 L773.1,648.3 L774.8,650.8 L776.5,653.3 L778.2,655.8 L779.9,658.2 L781.5,660.7 L783.2,663.2 L784.9,665.7 L786.5,668.2 L788.1,670.8 L789.6,673.4 L791.2,675.9 L792.6,678.6 L794.1,681.2 L795.5,683.8 L796.9,686.5 L798.4,689.1 L799.8,691.7 L801.2,694.4 L802.7,697.0 L804.1,699.6 L805.6,702.2 L807.1,704.8 L808.6,707.4 L810.2,710.0 L811.7,712.6 L813.2,715.1 L814.8,717.7 L816.4,720.2 L818.1,722.7 L819.8,725.2 L821.5,727.6 L823.3,730.1 L825.1,732.5 L826.9,734.9 L828.8,737.2 L830.6,739.5 L832.6,741.9 L834.5,744.2 L836.4,746.4 L838.4,748.7 L840.4,750.9 L842.4,753.2 L844.4,755.4 L846.4,757.6 L848.4,759.8 L850.5,762.0 L852.7,764.1 L854.9,766.1 L857.3,767.9 L859.7,769.6 L862.3,771.2 L864.9,772.8 L867.5,774.2 L870.2,775.5 L872.9,776.7 L875.7,777.8 L878.6,778.7 L881.5,779.5 L884.4,780.2 L887.3,780.8 L890.3,781.3 L893.2,781.8 L896.2,782.3 L899.2,782.8 L902.1,783.3 L905.1,783.7 L908.0,784.2 L911.0,784.7 L914.0,785.2 L916.9,785.6 L919.9,786.1 L922.9,786.4 L925.9,786.8 L928.8,787.1 L931.8,787.3 L934.8,787.5 L937.8,787.7 L940.8,787.9 L943.8,788.0 L946.8,788.2 L949.8,788.3 L952.8,788.5 L955.8,788.7 L958.8,788.9 L961.8,789.1 L964.8,789.2 L967.8,789.3 L970.8,789.4 L973.8,789.5 L976.8,789.5 L979.8,789.5 L982.8,789.5 L985.8,789.5 L988.8,789.5 L991.8,789.5 L994.8,789.5 L997.8,789.5 L1000.8,789.5 L1003.8,789.5 L1006.8,789.5 L1009.8,789.5 L1012.8,789.5 L1015.8,789.5 L1018.8,789.5 L1021.8,789.5 L1024.8,789.5 L1027.8,789.5 L1030.8,789.5 L1033.8,789.5 L1036.8,789.5 L1039.8,789.5 L1042.8,789.5 L1045.8,789.5 L1048.8,789.5 L1051.8,789.5 L1054.8,789.5 L1057.8,789.5 L1060.8,789.5 L1063.8,789.5 L1066.8,789.5 L1069.8,789.5 L1072.8,789.5 L1075.8,789.5 L1078.8,789.5 L1081.8,789.5 L1084.8,789.5 L1087.8,789.5 L1090.8,789.5 L1093.8,789.5 L1096.8,789.5 L1099.8,789.5 L1102.8,789.5 L1105.8,789.5 L1108.8,789.5 L1111.8,789.5 L1114.8,789.5 L1117.8,789.5 L1120.8,789.5 L1123.8,789.5 L1126.8,789.5 L1129.8,789.5 L1132.8,789.5 L1135.8,789.5 L1138.8,789.5 L1141.8,789.5 L1144.8,789.5 L1147.8,789.5 L1150.8,789.5 L1153.8,789.5 L1156.8,789.5 L1159.8,789.5 L1162.8,789.5 L1165.8,789.5 L1168.8,789.5 L1171.8,789.5 L1174.8,789.5 L1177.8,789.5 L1180.8,789.5 L1183.8,789.5 L1186.8,789.5 L1189.8,789.5 L1192.8,789.5 L1195.8,789.5 L1198.8,789.5 L1201.8,789.5 L1204.8,789.5 L1207.8,789.5 L1210.8,789.5 L1213.8,789.5 L1216.8,789.5 L1219.8,789.5 L1222.8,789.5 L1225.8,789.5 L1226.8,789.5" fill="none" stroke="#0000ff" stroke-width="5.0" stroke-linejoin="round" stroke-linecap="round" clip-path="url(#ca)"/>
<path d="M243.8,-74.5 L243.8,-71.5 L243.9,-68.5 L243.9,-65.5 L243.9,-62.5 L243.9,-59.5 L243.9,-56.5 L244.0,-53.5 L244.0,-50.5 L244.0,-47.5 L244.0,-44.5 L244.1,-41.5 L244.1,-38.5 L244.1,-35.5 L244.1,-32.5 L244.1,-29.5 L244.2,-26.5 L244.2,-23.5 L244.2,-20.5 L244.2,-17.5 L244.2,-14.5 L244.3,-11.5 L244.3,-8.5 L244.3,-5.5 L244.3,-2.5 L244.3,0.5 L244.4,3.5 L244.4,6.5 L244.4,9.5 L244.4,12.5 L244.4,15.5 L244.5,18.5 L244.5,21.5 L244.5,24.5 L244.5,27.5 L244.5,30.5 L244.6,33.5 L244.6,36.5 L244.6,39.5 L244.6,42.5 L244.6,45.5 L244.7,48.5 L244.7,51.5 L244.7,54.5 L244.7,57.5 L244.7,60.5 L244.7,63.5 L244.8,66.5 L244.8,69.5 L244.8,72.5 L244.8,75.5 L244.8,78.5 L244.9,81.5 L244.9,84.5 L244.9,87.5 L244.9,90.5 L244.9,93.5 L244.9,96.5 L244.9,99.5 L245.0,102.5 L245.0,105.5 L245.0,108.5 L245.0,111.5 L245.0,114.5 L245.0,117.5 L245.0,120.5 L245.1,123.5 L245.1,126.5 L245.1,129.5 L245.1,132.5 L245.1,135.5 L245.1,138.5 L245.2,141.5 L245.2,144.5 L245.2,147.5 L245.2,150.5 L245.2,153.5 L245.2,156.5 L245.2,159.5 L245.3,162.5 L245.3,165.5 L245.3,168.5 L245.3,171.5 L245.3,174.5 L245.3,177.5 L245.3,180.5 L245.4,183.5 L245.4,186.5 L245.4,189.5 L245.4,192.5 L245.5,195.5 L245.5,198.5 L245.5,201.5 L245.5,204.5 L245.6,207.5 L245.6,210.5 L245.7,213.5 L245.7,216.5 L245.8,219.5 L245.9,222.5 L245.9,225.5 L246.0,228.5 L246.1,231.5 L246.1,234.5 L246.2,237.5 L246.3,240.5 L246.4,243.5 L246.5,246.5 L246.5,249.5 L246.6,252.5 L246.7,255.5 L246.9,258.5 L247.0,261.5 L247.1,264.5 L247.2,267.5 L247.4,270.5 L247.5,273.5 L247.7,276.5 L247.8,279.5 L248.0,282.4 L248.2,285.4 L248.4,288.4 L248.6,291.4 L248.8,294.4 L248.9,297.4 L249.1,300.4 L249.3,303.4 L249.4,306.4 L249.6,309.4 L249.7,312.4 L249.9,315.4 L250.0,318.4 L250.1,321.4 L250.2,324.4 L250.4,327.4 L250.5,330.4 L250.6,333.4 L250.7,336.4 L250.9,339.4 L251.0,342.4 L251.1,345.4 L251.2,348.4 L251.4,351.4 L251.5,354.4 L251.6,357.4 L251.7,360.4 L251.9,363.4 L252.0,366.3 L252.2,369.3 L252.3,372.3 L252.5,375.3 L252.6,378.3 L252.8,381.3 L253.0,384.3 L253.1,387.3 L253.3,390.3 L253.5,393.3 L253.7,396.3 L253.9,399.3 L254.1,402.3 L254.3,405.3 L254.5,408.3 L254.8,411.3 L255.0,414.3 L255.2,417.2 L255.5,420.2 L255.7,423.2 L256.0,426.2 L256.3,429.2 L256.5,432.2 L256.8,435.2 L257.1,438.2 L257.4,441.1 L257.8,444.1 L258.1,447.1 L258.4,450.1 L258.8,453.1 L259.1,456.0 L259.5,459.0 L259.9,462.0 L260.3,465.0 L260.7,467.9 L261.1,470.9 L261.6,473.9 L262.1,476.8 L262.7,479.8 L263.2,482.7 L263.9,485.7 L264.5,488.6 L265.3,491.5 L266.2,494.3 L267.4,497.1 L268.9,499.6 L270.9,501.7 L273.4,503.0 L276.3,503.6 L279.2,503.4 L282.0,502.5 L284.7,501.3 L287.5,500.2 L290.4,499.3 L293.3,498.9 L296.1,499.2 L298.7,500.5 L301.0,502.3 L303.0,504.6 L304.4,507.1 L305.5,509.9 L306.4,512.8 L307.2,515.7 L307.9,518.6 L308.6,521.5 L309.3,524.4 L310.0,527.3 L310.7,530.2 L311.4,533.2 L312.1,536.1 L312.8,539.0 L313.4,541.9 L314.0,544.9 L314.6,547.8 L315.2,550.7 L315.8,553.7 L316.4,556.6 L317.0,559.6 L317.5,562.5 L318.1,565.5 L318.6,568.4 L319.1,571.4 L319.7,574.3 L320.2,577.3 L320.7,580.2 L321.2,583.2 L321.7,586.2 L322.3,589.1 L322.8,592.1 L323.4,595.0 L323.9,597.9 L324.5,600.9 L325.1,603.8 L325.6,606.8 L326.2,609.7 L326.8,612.7 L327.4,615.6 L328.1,618.5 L328.8,621.5 L329.5,624.4 L330.2,627.3 L331.0,630.2 L331.8,633.1 L332.6,635.9 L333.4,638.8 L334.3,641.7 L335.1,644.6 L335.9,647.5 L336.7,650.4 L337.4,653.3 L338.2,656.2 L339.0,659.1 L339.8,662.0 L340.6,664.9 L341.4,667.7 L342.3,670.6 L343.3,673.5 L344.3,676.3 L345.3,679.1 L346.4,681.9 L347.5,684.7 L348.6,687.5 L349.8,690.2 L351.0,693.0 L352.3,695.7 L353.6,698.4 L354.9,701.1 L356.3,703.7 L357.8,706.4 L359.2,709.0 L360.7,711.6 L362.3,714.1 L363.8,716.7 L365.5,719.2 L367.1,721.7 L368.8,724.2 L370.6,726.6 L372.5,728.9 L374.4,731.2 L376.4,733.5 L378.5,735.6 L380.7,737.7 L383.0,739.6 L385.3,741.5 L387.8,743.2 L390.4,744.5 L393.3,745.3 L396.2,745.8 L399.2,746.1 L402.2,746.1 L405.2,745.8 L408.0,745.0 L410.9,744.1 L413.7,743.0 L416.4,741.8 L419.1,740.5 L421.8,739.0 L424.3,737.5 L426.9,736.0 L429.5,734.5 L432.1,733.0 L434.7,731.6 L437.4,730.1 L440.0,728.6 L442.6,727.2 L445.4,726.0 L448.2,724.9 L451.0,724.0 L453.9,723.1 L456.8,722.3 L459.7,721.7 L462.7,721.3 L465.7,721.2 L468.6,721.4 L471.6,721.8 L474.6,722.3 L477.5,723.0 L480.3,723.8 L483.1,724.9 L485.8,726.3 L488.2,728.0 L490.6,729.8 L493.0,731.6 L495.4,733.5 L497.7,735.4 L500.0,737.3 L502.2,739.3 L504.4,741.4 L506.4,743.6 L508.5,745.8 L510.5,748.0 L512.6,750.1 L514.9,752.1 L517.3,753.9 L519.7,755.6 L522.3,757.1 L525.0,758.5 L527.7,759.7 L530.5,760.8 L533.3,761.8 L536.2,762.5 L539.2,762.9 L542.2,763.1 L545.1,763.1 L548.1,763.1 L551.1,763.1 L554.1,763.1 L557.1,763.1 L560.1,763.1 L563.1,763.1 L566.1,762.9 L569.1,762.5 L572.1,761.9 L575.0,761.2 L577.8,760.3 L580.5,759.1 L583.2,757.8 L585.9,756.5 L588.7,755.3 L591.5,754.3 L594.3,753.2 L597.0,752.0 L599.7,750.5 L602.2,749.0 L604.8,747.3 L607.2,745.7 L609.7,743.9 L612.1,742.1 L614.5,740.3 L616.8,738.5 L619.2,736.6 L621.5,734.7 L623.8,732.8 L626.1,730.9 L628.4,729.0 L630.7,727.0 L633.0,725.0 L635.2,723.0 L637.4,721.0 L639.7,719.0 L642.0,717.1 L644.2,715.1 L646.5,713.2 L648.9,711.3 L651.2,709.4 L653.5,707.6 L655.9,705.7 L658.3,703.9 L660.7,702.1 L663.2,700.4 L665.7,698.7 L668.2,697.1 L670.7,695.5 L673.3,694.0 L676.0,692.6 L678.6,691.2 L681.3,689.9 L684.0,688.6 L686.8,687.5 L689.6,686.4 L692.4,685.3 L695.3,684.4 L698.1,683.5 L701.0,682.8 L704.0,682.3 L707.0,681.9 L709.9,681.6 L712.9,681.5 L715.9,681.3 L718.9,681.3 L721.9,681.3 L724.9,681.6 L727.8,682.2 L730.7,683.0 L733.5,684.0 L736.3,685.2 L739.0,686.6 L741.6,688.0 L744.3,689.4 L746.8,690.9 L749.4,692.5 L751.9,694.1 L754.4,695.8 L756.8,697.6 L759.2,699.4 L761.4,701.4 L763.6,703.5 L765.7,705.6 L767.8,707.7 L769.9,709.9 L772.1,712.0 L774.2,714.1 L776.3,716.2 L778.4,718.4 L780.5,720.5 L782.6,722.6 L784.7,724.8 L786.8,726.9 L788.9,729.1 L791.0,731.2 L793.1,733.3 L795.3,735.4 L797.4,737.5 L799.6,739.6 L801.7,741.7 L803.8,743.8 L806.0,746.0 L808.1,748.1 L810.2,750.2 L812.4,752.2 L814.7,754.2 L817.0,756.1 L819.4,757.9 L821.8,759.7 L824.3,761.4 L826.8,763.1 L829.3,764.6 L831.9,766.2 L834.5,767.6 L837.2,769.0 L839.9,770.2 L842.7,771.4 L845.4,772.6 L848.2,773.7 L851.1,774.7 L853.9,775.6 L856.8,776.4 L859.7,777.2 L862.6,777.8 L865.6,778.4 L868.5,778.9 L871.5,779.4 L874.4,779.9 L877.4,780.3 L880.4,780.8 L883.3,781.3 L886.3,781.7 L889.3,782.1 L892.2,782.6 L895.2,783.0 L898.2,783.4 L901.2,783.8 L904.1,784.2 L907.1,784.6 L910.1,784.9 L913.1,785.3 L916.0,785.7 L919.0,786.1 L922.0,786.4 L925.0,786.7 L928.0,787.0 L931.0,787.2 L933.9,787.4 L936.9,787.6 L939.9,787.8 L942.9,788.0 L945.9,788.1 L948.9,788.3 L951.9,788.5 L954.9,788.6 L957.9,788.8 L960.9,789.0 L963.9,789.2 L966.9,789.3 L969.9,789.4 L972.9,789.5 L975.9,789.5 L978.9,789.5 L981.9,789.5 L984.9,789.5 L987.9,789.5 L990.9,789.5 L993.9,789.5 L996.9,789.5 L999.9,789.5 L1002.9,789.5 L1005.9,789.5 L1008.9,789.5 L1011.9,789.5 L1014.9,789.5 L1017.9,789.5 L1020.9,789.5 L1023.9,789.5 L1026.9,789.5 L1029.9,789.5 L1032.9,789.5 L1035.9,789.5 L1038.9,789.5 L1041.9,789.5 L1044.9,789.5 L1047.9,789.5 L1050.9,789.5 L1053.9,789.5 L1056.9,789.5 L1059.9,789.5 L1062.9,789.5 L1065.9,789.5 L1068.9,789.5 L1071.9,789.5 L1074.9,789.5 L1077.9,789.5 L1080.9,789.5 L1083.9,789.5 L1086.9,789.5 L1089.9,789.5 L1092.9,789.5 L1095.9,789.5 L1098.9,789.5 L1101.9,789.5 L1104.9,789.5 L1107.9,789.5 L1110.9,789.5 L1113.9,789.5 L1116.9,789.5 L1119.9,789.5 L1122.9,789.5 L1125.9,789.5 L1128.9,789.5 L1131.9,789.5 L1134.9,789.5 L1137.9,789.5 L1140.9,789.5 L1143.9,789.5 L1146.9,789.5 L1149.9,789.5 L1152.9,789.5 L1155.9,789.5 L1158.9,789.5 L1161.9,789.5 L1164.9,789.5 L1167.9,789.5 L1170.9,789.5 L1173.9,789.5 L1176.9,789.5 L1179.9,789.5 L1182.9,789.5 L1185.9,789.5 L1188.9,789.5 L1191.9,789.5 L1194.9,789.5 L1197.9,789.5 L1200.9,789.5 L1203.9,789.5 L1206.9,789.5 L1209.9,789.5 L1212.9,789.5 L1215.9,789.5 L1218.9,789.5 L1221.9,789.5 L1224.9,789.5 L1226.9,789.5" fill="none" stroke="#008080" stroke-width="5.0" stroke-linejoin="round" stroke-linecap="round" clip-path="url(#ca)"/>
<path d="M242.8,-74.5 L242.8,-71.5 L242.8,-68.5 L242.9,-65.5 L242.9,-62.5 L242.9,-59.5 L242.9,-56.5 L243.0,-53.5 L243.0,-50.5 L243.0,-47.5 L243.0,-44.5 L243.0,-41.5 L243.1,-38.5 L243.1,-35.5 L243.1,-32.5 L243.1,-29.5 L243.1,-26.5 L243.2,-23.5 L243.2,-20.5 L243.2,-17.5 L243.2,-14.5 L243.2,-11.5 L243.3,-8.5 L243.3,-5.5 L243.3,-2.5 L243.3,0.5 L243.3,3.5 L243.4,6.5 L243.4,9.5 L243.4,12.5 L243.4,15.5 L243.4,18.5 L243.5,21.5 L243.5,24.5 L243.5,27.5 L243.5,30.5 L243.5,33.5 L243.6,36.5 L243.6,39.5 L243.6,42.5 L243.6,45.5 L243.6,48.5 L243.7,51.5 L243.7,54.5 L243.7,57.5 L243.7,60.5 L243.7,63.5 L243.8,66.5 L243.8,69.5 L243.8,72.5 L243.8,75.5 L243.8,78.5 L243.8,81.5 L243.9,84.5 L243.9,87.5 L243.9,90.5 L243.9,93.5 L243.9,96.5 L243.9,99.5 L243.9,102.5 L244.0,105.5 L244.0,108.5 L244.0,111.5 L244.0,114.5 L244.0,117.5 L244.0,120.5 L244.1,123.5 L244.1,126.5 L244.1,129.5 L244.1,132.5 L244.1,135.5 L244.1,138.5 L244.1,141.5 L244.2,144.5 L244.2,147.5 L244.2,150.5 L244.2,153.5 L244.2,156.5 L244.2,159.5 L244.2,162.5 L244.3,165.5 L244.3,168.5 L244.3,171.5 L244.3,174.5 L244.3,177.5 L244.3,180.5 L244.4,183.5 L244.4,186.5 L244.4,189.5 L244.4,192.5 L244.5,195.5 L244.5,198.5 L244.5,201.5 L244.5,204.5 L244.6,207.5 L244.6,210.5 L244.7,213.5 L244.7,216.5 L244.8,219.5 L244.8,222.5 L244.9,225.5 L245.0,228.5 L245.0,231.5 L245.1,234.5 L245.2,237.5 L245.2,240.5 L245.3,243.5 L245.4,246.5 L245.5,249.5 L245.6,252.5 L245.7,255.5 L245.8,258.5 L245.9,261.5 L246.0,264.5 L246.1,267.5 L246.2,270.5 L246.4,273.5 L246.5,276.5 L246.7,279.5 L246.8,282.5 L247.0,285.5 L247.2,288.4 L247.4,291.4 L247.5,294.4 L247.7,297.4 L247.9,300.4 L248.0,303.4 L248.2,306.4 L248.3,309.4 L248.5,312.4 L248.6,315.4 L248.7,318.4 L248.9,321.4 L249.0,324.4 L249.1,327.4 L249.2,330.4 L249.3,333.4 L249.5,336.4 L249.6,339.4 L249.7,342.4 L249.8,345.4 L250.0,348.4 L250.1,351.4 L250.2,354.4 L250.4,357.4 L250.5,360.4 L250.6,363.4 L250.8,366.4 L250.9,369.4 L251.1,372.4 L251.2,375.4 L251.4,378.3 L251.5,381.3 L251.7,384.3 L251.8,387.3 L252.0,390.3 L252.2,393.3 L252.4,396.3 L252.5,399.3 L252.7,402.3 L252.9,405.3 L253.1,408.3 L253.3,411.3 L253.5,414.3 L253.7,417.3 L254.0,420.3 L254.2,423.3 L254.4,426.2 L254.7,429.2 L254.9,432.2 L255.2,435.2 L255.4,438.2 L255.7,441.2 L256.0,444.2 L256.3,447.2 L256.6,450.1 L256.9,453.1 L257.3,456.1 L257.6,459.1 L257.9,462.1 L258.3,465.1 L258.7,468.0 L259.1,471.0 L259.5,474.0 L259.9,476.9 L260.4,479.9 L260.9,482.9 L261.5,485.8 L262.1,488.7 L262.8,491.7 L263.6,494.6 L264.5,497.4 L265.6,500.2 L266.9,502.8 L268.8,504.8 L271.4,505.9 L274.3,506.0 L277.1,505.4 L279.6,503.9 L282.1,502.2 L284.6,500.7 L287.3,499.3 L290.0,498.1 L292.9,497.7 L295.7,498.1 L298.4,499.3 L300.8,501.1 L302.8,503.3 L304.2,505.8 L305.2,508.6 L306.1,511.5 L306.8,514.4 L307.6,517.3 L308.3,520.2 L309.0,523.1 L309.7,526.1 L310.4,529.0 L311.0,531.9 L311.7,534.8 L312.3,537.8 L312.9,540.7 L313.5,543.6 L314.1,546.6 L314.7,549.5 L315.2,552.5 L315.8,555.4 L316.3,558.4 L316.9,561.3 L317.4,564.3 L318.0,567.2 L318.5,570.2 L319.0,573.1 L319.5,576.1 L320.0,579.0 L320.5,582.0 L321.0,585.0 L321.6,587.9 L322.1,590.9 L322.6,593.8 L323.1,596.8 L323.6,599.7 L324.2,602.7 L324.7,605.6 L325.2,608.6 L325.8,611.5 L326.3,614.5 L326.9,617.4 L327.4,620.4 L328.0,623.3 L328.6,626.3 L329.3,629.2 L329.9,632.1 L330.6,635.0 L331.3,638.0 L332.0,640.9 L332.7,643.8 L333.4,646.7 L334.1,649.6 L334.8,652.5 L335.6,655.4 L336.3,658.3 L337.1,661.3 L337.9,664.1 L338.6,667.0 L339.4,669.9 L340.2,672.8 L341.1,675.7 L341.9,678.6 L342.8,681.5 L343.7,684.3 L344.6,687.2 L345.5,690.0 L346.5,692.9 L347.5,695.7 L348.5,698.5 L349.6,701.3 L350.7,704.1 L351.8,706.9 L353.0,709.7 L354.2,712.4 L355.4,715.1 L356.7,717.8 L358.0,720.5 L359.5,723.2 L360.9,725.8 L362.4,728.4 L364.0,731.0 L365.6,733.5 L367.4,735.9 L369.3,738.2 L371.3,740.4 L373.5,742.5 L375.7,744.5 L378.1,746.2 L380.7,747.8 L383.3,749.2 L386.1,750.2 L389.0,750.6 L392.0,750.6 L395.0,750.3 L398.0,749.8 L400.8,749.1 L403.6,748.0 L406.3,746.7 L409.0,745.4 L411.6,743.9 L414.2,742.4 L416.7,740.8 L419.2,739.1 L421.7,737.3 L424.1,735.6 L426.5,733.8 L429.0,732.1 L431.4,730.3 L433.8,728.5 L436.1,726.6 L438.5,724.8 L440.9,723.1 L443.5,721.4 L446.1,720.0 L448.8,718.7 L451.5,717.5 L454.3,716.4 L457.1,715.4 L460.0,714.6 L463.0,714.1 L466.0,714.0 L468.9,714.2 L471.9,714.7 L474.8,715.4 L477.7,716.2 L480.5,717.3 L483.2,718.6 L485.5,720.3 L487.7,722.4 L489.7,724.6 L491.7,726.9 L493.7,729.1 L495.7,731.3 L497.7,733.6 L499.6,735.9 L501.5,738.2 L503.4,740.6 L505.3,742.9 L507.1,745.3 L509.0,747.6 L510.9,749.9 L513.0,752.1 L515.1,754.2 L517.4,756.1 L519.8,758.0 L522.2,759.7 L524.7,761.3 L527.4,762.6 L530.2,763.8 L533.0,764.8 L535.8,765.8 L538.7,766.6 L541.6,767.3 L544.6,767.9 L547.5,768.4 L550.5,768.8 L553.5,769.2 L556.5,769.6 L559.4,769.8 L562.4,769.9 L565.4,770.0 L568.4,770.0 L571.4,770.0 L574.4,770.0 L577.4,770.0 L580.4,770.0 L583.4,770.0 L586.4,770.0 L589.4,769.9 L592.4,769.6 L595.4,769.1 L598.3,768.5 L601.2,767.8 L604.1,766.9 L607.0,766.0 L609.8,765.0 L612.6,764.0 L615.4,763.0 L618.3,762.1 L621.1,761.1 L624.0,760.1 L626.8,759.1 L629.6,758.0 L632.4,756.9 L635.1,755.7 L637.9,754.5 L640.6,753.3 L643.3,752.1 L646.1,750.9 L648.9,749.7 L651.7,748.6 L654.5,747.6 L657.3,746.7 L660.2,745.7 L663.0,744.8 L665.9,743.9 L668.8,743.0 L671.6,742.1 L674.5,741.3 L677.4,740.5 L680.3,739.8 L683.2,739.1 L686.2,738.6 L689.2,738.2 L692.1,737.9 L695.1,737.7 L698.1,737.6 L701.1,737.5 L704.1,737.3 L707.1,737.2 L710.1,737.1 L713.1,737.1 L716.1,737.0 L719.1,737.0 L722.1,737.1 L725.1,737.3 L728.1,737.5 L731.1,737.9 L734.1,738.3 L737.0,738.7 L740.0,739.2 L742.9,739.9 L745.8,740.7 L748.6,741.7 L751.4,742.8 L754.2,743.9 L757.0,745.1 L759.8,746.2 L762.5,747.3 L765.3,748.4 L768.1,749.5 L770.9,750.6 L773.7,751.8 L776.4,752.9 L779.2,754.1 L782.0,755.2 L784.8,756.3 L787.6,757.4 L790.4,758.5 L793.2,759.6 L795.9,760.7 L798.7,761.8 L801.5,762.9 L804.3,764.0 L807.1,765.2 L809.9,766.3 L812.7,767.4 L815.5,768.4 L818.3,769.4 L821.1,770.4 L824.0,771.4 L826.8,772.3 L829.7,773.2 L832.6,774.0 L835.4,774.9 L838.3,775.7 L841.3,776.4 L844.2,777.0 L847.1,777.6 L850.1,778.2 L853.0,778.8 L856.0,779.3 L858.9,779.8 L861.9,780.2 L864.9,780.6 L867.8,781.0 L870.8,781.4 L873.8,781.7 L876.8,782.1 L879.8,782.4 L882.7,782.6 L885.7,782.9 L888.7,783.2 L891.7,783.5 L894.7,783.7 L897.7,784.0 L900.7,784.3 L903.7,784.6 L906.6,784.9 L909.6,785.3 L912.6,785.6 L915.6,785.9 L918.6,786.2 L921.6,786.5 L924.5,786.7 L927.5,787.0 L930.5,787.2 L933.5,787.4 L936.5,787.6 L939.5,787.8 L942.5,787.9 L945.5,788.1 L948.5,788.3 L951.5,788.4 L954.5,788.6 L957.5,788.8 L960.5,789.0 L963.5,789.2 L966.5,789.3 L969.5,789.4 L972.5,789.5 L975.5,789.5 L978.5,789.5 L981.5,789.5 L984.5,789.5 L987.5,789.5 L990.5,789.5 L993.5,789.5 L996.5,789.5 L999.5,789.5 L1002.5,789.5 L1005.5,789.5 L1008.5,789.5 L1011.5,789.5 L1014.5,789.5 L1017.5,789.5 L1020.5,789.5 L1023.5,789.5 L1026.5,789.5 L1029.5,789.5 L1032.5,789.5 L1035.5,789.5 L1038.5,789.5 L1041.5,789.5 L1044.5,789.5 L1047.5,789.5 L1050.5,789.5 L1053.5,789.5 L1056.5,789.5 L1059.5,789.5 L1062.5,789.5 L1065.5,789.5 L1068.5,789.5 L1071.5,789.5 L1074.5,789.5 L1077.5,789.5 L1080.5,789.5 L1083.5,789.5 L1086.5,789.5 L1089.5,789.5 L1092.5,789.5 L1095.5,789.5 L1098.5,789.5 L1101.5,789.5 L1104.5,789.5 L1107.5,789.5 L1110.5,789.5 L1113.5,789.5 L1116.5,789.5 L1119.5,789.5 L1122.5,789.5 L1125.5,789.5 L1128.5,789.5 L1131.5,789.5 L1134.5,789.5 L1137.5,789.5 L1140.5,789.5 L1143.5,789.5 L1146.5,789.5 L1149.5,789.5 L1152.5,789.5 L1155.5,789.5 L1158.5,789.5 L1161.5,789.5 L1164.5,789.5 L1167.5,789.5 L1170.5,789.5 L1173.5,789.5 L1176.5,789.5 L1179.5,789.5 L1182.5,789.5 L1185.5,789.5 L1188.5,789.5 L1191.5,789.5 L1194.5,789.5 L1197.5,789.5 L1200.5,789.5 L1203.5,789.5 L1206.5,789.5 L1209.5,789.5 L1212.5,789.5 L1215.5,789.5 L1218.5,789.5 L1221.5,789.5 L1224.5,789.5 L1226.5,789.5" fill="none" stroke="#ff00ff" stroke-width="5.0" stroke-linejoin="round" stroke-linecap="round" clip-path="url(#ca)"/>
<path d="M241.8,-74.5 L241.8,-71.5 L241.8,-68.5 L241.9,-65.5 L241.9,-62.5 L241.9,-59.5 L241.9,-56.5 L241.9,-53.5 L242.0,-50.5 L242.0,-47.5 L242.0,-44.5 L242.0,-41.5 L242.1,-38.5 L242.1,-35.5 L242.1,-32.5 L242.1,-29.5 L242.1,-26.5 L242.2,-23.5 L242.2,-20.5 L242.2,-17.5 L242.2,-14.5 L242.2,-11.5 L242.3,-8.5 L242.3,-5.5 L242.3,-2.5 L242.3,0.5 L242.3,3.5 L242.4,6.5 L242.4,9.5 L242.4,12.5 L242.4,15.5 L242.4,18.5 L242.5,21.5 L242.5,24.5 L242.5,27.5 L242.5,30.5 L242.5,33.5 L242.6,36.5 L242.6,39.5 L242.6,42.5 L242.6,45.5 L242.6,48.5 L242.6,51.5 L242.7,54.5 L242.7,57.5 L242.7,60.5 L242.7,63.5 L242.7,66.5 L242.8,69.5 L242.8,72.5 L242.8,75.5 L242.8,78.5 L242.8,81.5 L242.8,84.5 L242.9,87.5 L242.9,90.5 L242.9,93.5 L242.9,96.5 L242.9,99.5 L242.9,102.5 L243.0,105.5 L243.0,108.5 L243.0,111.5 L243.0,114.5 L243.0,117.5 L243.0,120.5 L243.0,123.5 L243.1,126.5 L243.1,129.5 L243.1,132.5 L243.1,135.5 L243.1,138.5 L243.1,141.5 L243.1,144.5 L243.2,147.5 L243.2,150.5 L243.2,153.5 L243.2,156.5 L243.2,159.5 L243.2,162.5 L243.2,165.5 L243.3,168.5 L243.3,171.5 L243.3,174.5 L243.3,177.5 L243.3,180.5 L243.4,183.5 L243.4,186.5 L243.4,189.5 L243.4,192.5 L243.4,195.5 L243.5,198.5 L243.5,201.5 L243.5,204.5 L243.5,207.5 L243.6,210.5 L243.6,213.5 L243.7,216.5 L243.8,219.5 L243.8,222.5 L243.9,225.5 L243.9,228.5 L244.0,231.5 L244.1,234.5 L244.2,237.5 L244.2,240.5 L244.3,243.5 L244.4,246.5 L244.5,249.5 L244.6,252.5 L244.7,255.5 L244.8,258.5 L244.9,261.5 L245.0,264.5 L245.1,267.5 L245.3,270.5 L245.4,273.5 L245.5,276.5 L245.7,279.5 L245.9,282.5 L246.0,285.4 L246.2,288.4 L246.4,291.4 L246.6,294.4 L246.7,297.4 L246.9,300.4 L247.1,303.4 L247.2,306.4 L247.3,309.4 L247.5,312.4 L247.6,315.4 L247.7,318.4 L247.8,321.4 L247.9,324.4 L248.1,327.4 L248.2,330.4 L248.3,333.4 L248.4,336.4 L248.5,339.4 L248.6,342.4 L248.7,345.4 L248.8,348.4 L249.0,351.4 L249.1,354.4 L249.2,357.4 L249.3,360.4 L249.4,363.4 L249.6,366.4 L249.7,369.4 L249.8,372.4 L250.0,375.4 L250.1,378.4 L250.3,381.4 L250.4,384.3 L250.6,387.3 L250.7,390.3 L250.9,393.3 L251.1,396.3 L251.3,399.3 L251.5,402.3 L251.7,405.3 L251.9,408.3 L252.1,411.3 L252.3,414.3 L252.5,417.3 L252.7,420.3 L252.9,423.3 L253.1,426.3 L253.3,429.3 L253.5,432.2 L253.7,435.2 L254.0,438.2 L254.2,441.2 L254.4,444.2 L254.7,447.2 L254.9,450.2 L255.2,453.2 L255.4,456.2 L255.7,459.2 L256.0,462.1 L256.3,465.1 L256.6,468.1 L256.9,471.1 L257.2,474.1 L257.6,477.1 L258.0,480.0 L258.4,483.0 L258.9,486.0 L259.4,488.9 L259.9,491.9 L260.6,494.8 L261.2,497.7 L262.0,500.6 L262.9,503.5 L264.0,506.3 L265.3,508.8 L267.3,510.4 L270.0,510.7 L272.8,510.1 L275.3,508.6 L277.4,506.6 L279.3,504.3 L281.2,501.9 L283.1,499.6 L285.1,497.4 L287.3,495.4 L289.8,493.7 L292.4,492.6 L295.2,492.5 L297.9,493.5 L300.2,495.3 L302.2,497.5 L303.9,500.0 L305.2,502.7 L306.1,505.5 L307.0,508.4 L307.8,511.3 L308.5,514.2 L309.2,517.1 L309.9,520.0 L310.5,522.9 L311.1,525.9 L311.6,528.8 L312.2,531.8 L312.6,534.7 L313.1,537.7 L313.6,540.7 L314.0,543.6 L314.5,546.6 L314.9,549.6 L315.4,552.5 L315.9,555.5 L316.3,558.5 L316.8,561.4 L317.3,564.4 L317.8,567.3 L318.3,570.3 L318.7,573.3 L319.2,576.2 L319.7,579.2 L320.2,582.2 L320.6,585.1 L321.1,588.1 L321.6,591.0 L322.1,594.0 L322.6,597.0 L323.1,599.9 L323.5,602.9 L324.0,605.8 L324.5,608.8 L325.0,611.8 L325.5,614.7 L326.0,617.7 L326.5,620.6 L327.1,623.6 L327.6,626.5 L328.2,629.5 L328.8,632.4 L329.4,635.4 L330.0,638.3 L330.6,641.2 L331.2,644.2 L331.9,647.1 L332.5,650.0 L333.2,652.9 L333.9,655.9 L334.6,658.8 L335.3,661.7 L336.1,664.6 L336.9,667.5 L337.7,670.4 L338.5,673.3 L339.3,676.1 L340.2,679.0 L341.0,681.9 L341.9,684.8 L342.8,687.6 L343.8,690.5 L344.7,693.3 L345.7,696.1 L346.7,699.0 L347.8,701.8 L348.9,704.6 L350.0,707.4 L351.1,710.1 L352.3,712.9 L353.5,715.6 L354.8,718.3 L356.2,721.0 L357.7,723.6 L359.3,726.1 L360.9,728.7 L362.7,731.1 L364.5,733.4 L366.6,735.6 L368.9,737.5 L371.3,739.3 L373.8,740.9 L376.5,742.1 L379.4,743.1 L382.3,743.9 L385.2,744.5 L388.1,745.0 L391.1,745.3 L394.1,745.3 L397.1,745.1 L400.1,744.8 L403.0,744.3 L406.0,743.7 L408.9,743.0 L411.7,742.0 L414.4,740.7 L417.0,739.2 L419.6,737.7 L422.2,736.2 L424.8,734.7 L427.3,733.1 L429.9,731.5 L432.4,729.9 L435.0,728.4 L437.6,726.9 L440.3,725.7 L443.1,724.5 L445.9,723.4 L448.7,722.4 L451.5,721.4 L454.4,720.5 L457.3,719.7 L460.2,719.2 L463.2,718.9 L466.2,718.8 L469.2,719.0 L472.1,719.4 L475.1,720.0 L478.0,720.7 L480.8,721.6 L483.5,722.9 L486.0,724.5 L488.3,726.5 L490.5,728.5 L492.7,730.6 L494.9,732.6 L497.2,734.5 L499.4,736.5 L501.6,738.6 L503.6,740.8 L505.5,743.1 L507.3,745.5 L509.0,748.0 L510.8,750.4 L512.7,752.7 L514.7,755.0 L516.8,757.1 L518.9,759.2 L521.1,761.2 L523.5,763.1 L525.9,764.8 L528.5,766.3 L531.2,767.7 L533.9,768.9 L536.7,770.1 L539.5,771.1 L542.3,772.0 L545.2,772.8 L548.1,773.5 L551.1,774.2 L554.0,774.8 L557.0,775.3 L559.9,775.6 L562.9,775.8 L565.9,775.9 L568.9,775.8 L571.9,775.7 L574.9,775.6 L577.9,775.5 L580.9,775.3 L583.9,775.1 L586.9,774.9 L589.9,774.7 L592.9,774.5 L595.9,774.3 L598.9,774.1 L601.9,773.8 L604.8,773.5 L607.8,773.1 L610.8,772.8 L613.8,772.3 L616.7,771.9 L619.7,771.4 L622.7,770.9 L625.6,770.4 L628.6,769.9 L631.5,769.4 L634.5,768.8 L637.4,768.2 L640.3,767.6 L643.3,766.9 L646.2,766.2 L649.1,765.5 L652.0,764.7 L654.9,764.0 L657.8,763.2 L660.7,762.5 L663.6,761.8 L666.6,761.2 L669.5,760.6 L672.5,760.0 L675.4,759.5 L678.3,758.9 L681.3,758.3 L684.2,757.8 L687.2,757.3 L690.2,756.8 L693.1,756.4 L696.1,756.1 L699.1,756.0 L702.1,755.8 L705.1,755.8 L708.1,755.7 L711.1,755.6 L714.1,755.6 L717.1,755.7 L720.1,755.8 L723.1,756.1 L726.1,756.6 L729.0,757.0 L732.0,757.4 L735.0,757.9 L737.9,758.4 L740.9,759.0 L743.8,759.5 L746.7,760.1 L749.7,760.8 L752.6,761.4 L755.5,762.0 L758.5,762.6 L761.4,763.3 L764.3,763.9 L767.3,764.5 L770.2,765.2 L773.1,765.9 L776.0,766.6 L779.0,767.3 L781.9,768.0 L784.8,768.7 L787.7,769.4 L790.6,770.1 L793.5,770.8 L796.4,771.6 L799.3,772.3 L802.2,773.1 L805.1,773.8 L808.1,774.6 L811.0,775.3 L813.9,775.9 L816.8,776.5 L819.8,777.0 L822.8,777.5 L825.7,777.9 L828.7,778.3 L831.7,778.7 L834.7,779.1 L837.6,779.4 L840.6,779.7 L843.6,780.0 L846.6,780.3 L849.6,780.6 L852.6,780.8 L855.6,781.1 L858.6,781.3 L861.5,781.5 L864.5,781.7 L867.5,781.9 L870.5,782.1 L873.5,782.3 L876.5,782.5 L879.5,782.7 L882.5,782.9 L885.5,783.1 L888.5,783.3 L891.5,783.6 L894.5,783.8 L897.5,784.0 L900.5,784.2 L903.4,784.4 L906.4,784.5 L909.4,784.6 L912.4,784.7 L915.4,784.8 L918.4,784.9 L921.4,784.9 L924.4,785.0 L927.4,785.1 L930.4,785.1 L933.4,785.2 L936.4,785.2 L939.4,785.2 L942.4,785.3 L945.4,785.3 L948.4,785.3 L951.4,785.3 L954.4,785.3 L957.4,785.3 L960.4,785.3 L963.4,785.3 L966.4,785.3 L969.4,785.3 L972.4,785.3 L975.4,785.3 L978.4,785.3 L981.4,785.3 L984.4,785.3 L987.4,785.3 L990.4,785.3 L993.4,785.3 L996.4,785.3 L999.4,785.3 L1002.4,785.3 L1005.4,785.3 L1008.4,785.3 L1011.4,785.3 L1014.4,785.3 L1017.4,785.3 L1020.4,785.3 L1023.4,785.3 L1026.4,785.3 L1029.4,785.3 L1032.4,785.3 L1035.4,785.3 L1038.4,785.3 L1041.4,785.3 L1044.4,785.3 L1047.4,785.3 L1050.4,785.3 L1053.4,785.3 L1056.4,785.3 L1059.4,785.3 L1062.4,785.3 L1065.4,785.3 L1068.4,785.3 L1071.4,785.3 L1074.4,785.3 L1077.4,785.3 L1080.4,785.3 L1083.4,785.3 L1086.4,785.3 L1089.4,785.3 L1092.4,785.3 L1095.4,785.3 L1098.4,785.3 L1101.4,785.3 L1104.4,785.3 L1107.4,785.3 L1110.4,785.3 L1113.4,785.3 L1116.4,785.3 L1119.4,785.3 L1122.4,785.3 L1125.4,785.3 L1128.4,785.3 L1131.4,785.3 L1134.4,785.3 L1137.4,785.3 L1140.4,785.3 L1143.4,785.3 L1146.4,785.3 L1149.4,785.3 L1152.4,785.3 L1155.4,785.3 L1158.4,785.3 L1161.4,785.3 L1164.4,785.3 L1167.4,785.3 L1170.4,785.3 L1173.4,785.3 L1176.4,785.3 L1179.4,785.3 L1182.4,785.3 L1185.4,785.3 L1188.4,785.3 L1191.4,785.3 L1194.4,785.3 L1197.4,785.3 L1200.4,785.3 L1203.4,785.3 L1206.4,785.3 L1209.4,785.3 L1212.4,785.3 L1215.4,785.3 L1218.4,785.3 L1221.4,785.3 L1224.4,785.3 L1226.4,785.3" fill="none" stroke="#808000" stroke-width="5.0" stroke-linejoin="round" stroke-linecap="round" clip-path="url(#ca)"/>
<path d="M239.8,-74.5 L239.8,-71.5 L239.8,-68.5 L239.8,-65.5 L239.8,-62.5 L239.8,-59.5 L239.9,-56.5 L239.9,-53.5 L239.9,-50.5 L239.9,-47.5 L239.9,-44.5 L239.9,-41.5 L239.9,-38.5 L240.0,-35.5 L240.0,-32.5 L240.0,-29.5 L240.0,-26.5 L240.0,-23.5 L240.0,-20.5 L240.0,-17.5 L240.1,-14.5 L240.1,-11.5 L240.1,-8.5 L240.1,-5.5 L240.1,-2.5 L240.1,0.5 L240.2,3.5 L240.2,6.5 L240.2,9.5 L240.2,12.5 L240.2,15.5 L240.2,18.5 L240.2,21.5 L240.3,24.5 L240.3,27.5 L240.3,30.5 L240.3,33.5 L240.3,36.5 L240.3,39.5 L240.4,42.5 L240.4,45.5 L240.4,48.5 L240.4,51.5 L240.4,54.5 L240.4,57.5 L240.4,60.5 L240.5,63.5 L240.5,66.5 L240.5,69.5 L240.5,72.5 L240.5,75.5 L240.5,78.5 L240.6,81.5 L240.6,84.5 L240.6,87.5 L240.6,90.5 L240.6,93.5 L240.6,96.5 L240.6,99.5 L240.7,102.5 L240.7,105.5 L240.7,108.5 L240.7,111.5 L240.7,114.5 L240.7,117.5 L240.7,120.5 L240.8,123.5 L240.8,126.5 L240.8,129.5 L240.8,132.5 L240.8,135.5 L240.8,138.5 L240.8,141.5 L240.9,144.5 L240.9,147.5 L240.9,150.5 L240.9,153.5 L240.9,156.5 L240.9,159.5 L241.0,162.5 L241.0,165.5 L241.0,168.5 L241.0,171.5 L241.0,174.5 L241.0,177.5 L241.1,180.5 L241.1,183.5 L241.1,186.5 L241.1,189.5 L241.1,192.5 L241.2,195.5 L241.2,198.5 L241.2,201.5 L241.2,204.5 L241.3,207.5 L241.3,210.5 L241.3,213.5 L241.4,216.5 L241.4,219.5 L241.5,222.5 L241.5,225.5 L241.6,228.5 L241.7,231.5 L241.7,234.5 L241.8,237.5 L241.8,240.5 L241.9,243.5 L242.0,246.5 L242.0,249.5 L242.1,252.5 L242.2,255.5 L242.3,258.5 L242.3,261.5 L242.4,264.5 L242.5,267.5 L242.6,270.5 L242.7,273.5 L242.8,276.5 L242.9,279.5 L243.0,282.5 L243.2,285.5 L243.3,288.5 L243.4,291.5 L243.5,294.5 L243.6,297.5 L243.8,300.5 L243.9,303.5 L244.0,306.5 L244.1,309.5 L244.2,312.4 L244.3,315.4 L244.4,318.4 L244.5,321.4 L244.6,324.4 L244.7,327.4 L244.8,330.4 L244.9,333.4 L245.0,336.4 L245.1,339.4 L245.2,342.4 L245.3,345.4 L245.4,348.4 L245.5,351.4 L245.6,354.4 L245.7,357.4 L245.8,360.4 L245.9,363.4 L246.1,366.4 L246.2,369.4 L246.3,372.4 L246.4,375.4 L246.6,378.4 L246.7,381.4 L246.9,384.4 L247.0,387.4 L247.2,390.4 L247.3,393.4 L247.5,396.4 L247.7,399.4 L247.9,402.4 L248.0,405.4 L248.2,408.4 L248.4,411.4 L248.6,414.4 L248.7,417.3 L248.9,420.3 L249.0,423.3 L249.2,426.3 L249.3,429.3 L249.5,432.3 L249.6,435.3 L249.7,438.3 L249.9,441.3 L250.0,444.3 L250.1,447.3 L250.3,450.3 L250.4,453.3 L250.5,456.3 L250.7,459.3 L250.8,462.3 L250.9,465.3 L251.0,468.3 L251.2,471.3 L251.3,474.3 L251.5,477.3 L251.6,480.3 L251.9,483.3 L252.1,486.3 L252.3,489.3 L252.6,492.2 L252.9,495.2 L253.2,498.2 L253.5,501.2 L253.9,504.2 L254.3,507.1 L254.7,510.1 L255.1,513.1 L255.6,516.0 L256.1,519.0 L256.6,522.0 L257.2,524.9 L257.9,527.8 L258.8,530.7 L259.9,533.5 L261.1,536.2 L262.7,538.6 L264.7,540.3 L267.1,540.2 L269.4,538.6 L271.4,536.4 L273.2,534.0 L274.8,531.5 L276.2,528.9 L277.5,526.2 L278.8,523.4 L279.9,520.7 L280.9,517.8 L281.8,515.0 L282.8,512.2 L283.9,509.4 L285.2,506.7 L286.7,504.1 L288.4,501.6 L290.2,499.3 L292.5,497.7 L295.2,497.3 L297.9,498.3 L300.3,499.9 L302.3,502.1 L303.9,504.5 L305.2,507.3 L306.3,510.1 L307.3,512.9 L308.3,515.7 L309.3,518.5 L310.3,521.4 L311.2,524.2 L312.0,527.1 L312.8,530.0 L313.6,532.9 L314.4,535.8 L315.1,538.7 L315.8,541.6 L316.4,544.6 L317.0,547.5 L317.5,550.5 L318.1,553.4 L318.6,556.4 L319.1,559.3 L319.5,562.3 L320.0,565.3 L320.4,568.2 L320.7,571.2 L321.1,574.2 L321.5,577.2 L321.9,580.1 L322.2,583.1 L322.6,586.1 L323.0,589.1 L323.4,592.0 L323.9,595.0 L324.4,598.0 L324.9,600.9 L325.4,603.9 L325.9,606.8 L326.4,609.8 L327.0,612.7 L327.5,615.7 L328.1,618.6 L328.7,621.6 L329.3,624.5 L329.9,627.4 L330.5,630.4 L331.1,633.3 L331.7,636.2 L332.4,639.2 L333.0,642.1 L333.7,645.0 L334.3,648.0 L335.0,650.9 L335.6,653.8 L336.2,656.8 L336.9,659.7 L337.5,662.6 L338.1,665.6 L338.8,668.5 L339.5,671.4 L340.1,674.3 L340.8,677.2 L341.6,680.2 L342.3,683.1 L343.0,686.0 L343.8,688.9 L344.6,691.8 L345.4,694.7 L346.2,697.5 L347.1,700.4 L348.0,703.3 L349.0,706.1 L350.0,708.9 L351.1,711.7 L352.2,714.5 L353.3,717.3 L354.5,720.1 L355.8,722.8 L357.2,725.4 L358.7,728.0 L360.3,730.5 L362.0,733.0 L363.7,735.4 L365.6,737.8 L367.5,740.1 L369.4,742.4 L371.4,744.7 L373.4,747.0 L375.4,749.1 L377.6,751.1 L380.1,752.7 L382.9,753.9 L385.7,754.9 L388.6,755.6 L391.5,756.0 L394.5,755.9 L397.4,755.3 L400.2,754.4 L403.0,753.2 L405.7,752.0 L408.5,750.7 L411.1,749.3 L413.7,747.8 L416.2,746.2 L418.7,744.5 L421.1,742.7 L423.5,740.8 L425.7,738.9 L427.9,736.8 L430.1,734.7 L432.2,732.6 L434.3,730.4 L436.3,728.3 L438.3,726.0 L440.2,723.7 L442.0,721.3 L443.7,718.8 L445.5,716.4 L447.3,714.1 L449.4,712.0 L451.9,710.4 L454.7,709.3 L457.5,708.4 L460.5,707.8 L463.4,707.5 L466.4,707.5 L469.4,707.9 L472.3,708.6 L475.1,709.6 L477.9,710.7 L480.6,711.9 L483.2,713.4 L485.7,715.1 L488.0,717.0 L490.1,719.1 L492.1,721.3 L493.9,723.8 L495.4,726.3 L496.7,729.0 L498.1,731.7 L499.4,734.4 L500.8,737.1 L502.2,739.7 L503.6,742.3 L505.1,745.0 L506.6,747.5 L508.2,750.1 L510.0,752.4 L512.1,754.6 L514.3,756.7 L516.6,758.6 L519.0,760.4 L521.4,762.2 L523.8,763.9 L526.3,765.6 L528.9,767.2 L531.4,768.7 L534.0,770.3 L536.6,771.8 L539.2,773.3 L541.8,774.7 L544.5,776.1 L547.2,777.3 L550.0,778.5 L552.8,779.5 L555.6,780.5 L558.5,781.4 L561.3,782.3 L564.2,783.1 L567.1,783.9 L570.1,784.5 L573.0,785.0 L576.0,785.3 L579.0,785.6 L582.0,785.8 L585.0,786.0 L588.0,786.2 L591.0,786.4 L594.0,786.5 L597.0,786.6 L600.0,786.8 L603.0,786.9 L606.0,787.0 L609.0,787.1 L612.0,787.1 L615.0,787.2 L618.0,787.3 L621.0,787.4 L624.0,787.4 L627.0,787.5 L630.0,787.6 L633.0,787.6 L636.0,787.7 L639.0,787.8 L642.0,787.8 L644.9,787.9 L647.9,787.9 L650.9,788.0 L653.9,788.0 L656.9,788.1 L659.9,788.1 L662.9,788.2 L665.9,788.2 L668.9,788.3 L671.9,788.3 L674.9,788.3 L677.9,788.4 L680.9,788.4 L683.9,788.5 L686.9,788.5 L689.9,788.5 L692.9,788.6 L695.9,788.6 L698.9,788.6 L701.9,788.7 L704.9,788.7 L707.9,788.7 L710.9,788.8 L713.9,788.8 L716.9,788.8 L719.9,788.9 L722.9,788.9 L725.9,788.9 L728.9,789.0 L731.9,789.0 L734.9,789.1 L737.9,789.1 L740.9,789.1 L743.9,789.1 L746.9,789.2 L749.9,789.2 L752.9,789.2 L755.9,789.3 L758.9,789.3 L761.9,789.3 L764.9,789.4 L767.9,789.4 L770.9,789.4 L773.9,789.4 L776.9,789.5 L779.9,789.5 L782.9,789.5 L785.9,789.5 L788.9,789.6 L791.9,789.6 L794.9,789.6 L797.9,789.6 L800.9,789.7 L803.9,789.7 L806.9,789.7 L809.9,789.7 L812.9,789.8 L815.9,789.8 L818.9,789.8 L821.9,789.8 L824.9,789.9 L827.9,789.9 L830.9,789.9 L833.9,789.9 L836.9,789.9 L839.9,790.0 L842.9,790.0 L845.9,790.0 L848.9,790.0 L851.9,790.1 L854.9,790.1 L857.9,790.1 L860.9,790.1 L863.9,790.2 L866.9,790.2 L869.9,790.2 L872.9,790.2 L875.9,790.3 L878.9,790.3 L881.9,790.3 L884.9,790.3 L887.9,790.4 L890.9,790.4 L893.9,790.4 L896.9,790.4 L899.9,790.5 L902.9,790.5 L905.9,790.5 L908.9,790.6 L911.9,790.6 L914.9,790.6 L917.9,790.6 L920.9,790.7 L923.9,790.7 L926.9,790.7 L929.9,790.8 L932.9,790.8 L935.9,790.8 L938.9,790.9 L941.9,790.9 L944.9,791.0 L947.9,791.0 L950.9,791.1 L953.9,791.1 L956.9,791.2 L959.9,791.2 L962.9,791.3 L965.9,791.3 L968.9,791.3 L971.9,791.4 L974.9,791.4 L977.9,791.5 L980.9,791.5 L983.9,791.6 L986.9,791.6 L989.9,791.6 L992.9,791.7 L995.9,791.7 L998.9,791.8 L1001.9,791.8 L1004.9,791.8 L1007.9,791.8 L1010.9,791.9 L1013.9,791.9 L1016.9,791.9 L1019.9,791.9 L1022.9,791.9 L1025.9,791.9 L1028.9,791.9 L1031.9,791.9 L1034.9,791.9 L1037.9,791.9 L1040.9,791.9 L1043.9,791.9 L1046.9,791.9 L1049.9,791.9 L1052.9,791.9 L1055.9,791.9 L1058.9,791.9 L1061.9,791.9 L1064.9,791.9 L1067.9,791.9 L1070.9,791.9 L1073.9,791.9 L1076.9,791.9 L1079.9,791.9 L1082.9,791.9 L1085.9,791.9 L1088.9,791.9 L1091.9,791.9 L1094.9,791.9 L1097.9,791.9 L1100.9,791.9 L1103.9,791.9 L1106.9,791.9 L1109.9,791.9 L1112.9,791.9 L1115.9,791.9 L1118.9,791.9 L1121.9,791.9 L1124.9,791.9 L1127.9,791.9 L1130.9,791.9 L1133.9,791.9 L1136.9,791.9 L1139.9,791.9 L1142.9,791.9 L1145.9,791.9 L1148.9,791.9 L1151.9,791.9 L1154.9,791.9 L1157.9,791.9 L1160.9,791.9 L1163.9,791.9 L1166.9,791.9 L1169.9,791.9 L1172.9,791.9 L1175.9,791.9 L1178.9,791.9 L1181.9,791.9 L1184.9,791.9 L1187.9,791.9 L1190.9,791.9 L1193.9,791.9 L1196.9,791.9 L1199.9,791.9 L1202.9,791.9 L1205.9,791.9 L1208.9,791.9 L1211.9,791.9 L1214.9,791.9 L1217.9,791.9 L1220.9,791.9 L1223.9,791.9 L1226.9,791.9" fill="none" stroke="#000080" stroke-width="5.0" stroke-linejoin="round" stroke-linecap="round" clip-path="url(#ca)"/>
<rect x="216" y="45.3" width="1011.3" height="750.2" fill="none" stroke="#000" stroke-width="5.2"/>
<line x1="216" y1="795.5" x2="216" y2="811.5" stroke="#000" stroke-width="4.2" />
<line x1="342.4" y1="795.5" x2="342.4" y2="805.5" stroke="#000" stroke-width="4.2" />
<line x1="468.8" y1="795.5" x2="468.8" y2="811.5" stroke="#000" stroke-width="4.2" />
<line x1="595.2" y1="795.5" x2="595.2" y2="805.5" stroke="#000" stroke-width="4.2" />
<line x1="721.6" y1="795.5" x2="721.6" y2="811.5" stroke="#000" stroke-width="4.2" />
<line x1="848.1" y1="795.5" x2="848.1" y2="805.5" stroke="#000" stroke-width="4.2" />
<line x1="974.5" y1="795.5" x2="974.5" y2="811.5" stroke="#000" stroke-width="4.2" />
<line x1="1100.9" y1="795.5" x2="1100.9" y2="805.5" stroke="#000" stroke-width="4.2" />
<line x1="1227.3" y1="795.5" x2="1227.3" y2="811.5" stroke="#000" stroke-width="4.2" />
<line x1="198" y1="795.5" x2="216" y2="795.5" stroke="#000" stroke-width="4.2" />
<line x1="206" y1="735.5" x2="216" y2="735.5" stroke="#000" stroke-width="4.2" />
<line x1="198" y1="675.5" x2="216" y2="675.5" stroke="#000" stroke-width="4.2" />
<line x1="206" y1="615.5" x2="216" y2="615.5" stroke="#000" stroke-width="4.2" />
<line x1="198" y1="555.5" x2="216" y2="555.5" stroke="#000" stroke-width="4.2" />
<line x1="206" y1="495.5" x2="216" y2="495.5" stroke="#000" stroke-width="4.2" />
<line x1="198" y1="435.5" x2="216" y2="435.5" stroke="#000" stroke-width="4.2" />
<line x1="206" y1="375.5" x2="216" y2="375.5" stroke="#000" stroke-width="4.2" />
<line x1="198" y1="315.5" x2="216" y2="315.5" stroke="#000" stroke-width="4.2" />
<line x1="206" y1="255.5" x2="216" y2="255.5" stroke="#000" stroke-width="4.2" />
<line x1="198" y1="195.5" x2="216" y2="195.5" stroke="#000" stroke-width="4.2" />
<line x1="206" y1="135.5" x2="216" y2="135.5" stroke="#000" stroke-width="4.2" />
<line x1="198" y1="75.5" x2="216" y2="75.5" stroke="#000" stroke-width="4.2" />
</g>
<text x="213.5" y="854.3" font-size="45" text-anchor="middle" >200</text>
<text x="466.3" y="854.3" font-size="45" text-anchor="middle" >300</text>
<text x="719.1" y="854.3" font-size="45" text-anchor="middle" >400</text>
<text x="972" y="854.3" font-size="45" text-anchor="middle" >500</text>
<text x="1224.8" y="854.3" font-size="45" text-anchor="middle" >600</text>
<text x="188.8" y="807.5" font-size="45" text-anchor="end" >0.0</text>
<text x="188.8" y="687.5" font-size="45" text-anchor="end" >0.2</text>
<text x="188.8" y="567.5" font-size="45" text-anchor="end" >0.4</text>
<text x="188.8" y="447.5" font-size="45" text-anchor="end" >0.6</text>
<text x="188.8" y="327.5" font-size="45" text-anchor="end" >0.8</text>
<text x="188.8" y="207.5" font-size="45" text-anchor="end" >1.0</text>
<text x="188.8" y="87.5" font-size="45" text-anchor="end" >1.2</text>
<text x="0" y="0" font-size="45" text-anchor="middle" transform="translate(119.2,424.9) rotate(-90)">Absorbance</text>
<text x="545.2" y="892" font-size="45" text-anchor="start" textLength="329.8" lengthAdjust="spacing">Wavelength (nm</text>
<text x="881" y="892" font-size="45" text-anchor="start" >)</text>
<text x="268.3" y="125.8" font-size="78">(</text>
<text transform="translate(297.6,125.8) scale(0.81,1)" font-size="78">a</text>
<text x="339.5" y="125.8" font-size="78">)</text>
<text x="596.6" y="101.2" font-size="45" text-anchor="start" >4-NP+NaBH</text>
<text x="845" y="119.4" font-size="23.5" text-anchor="start" >4</text>
<line x1="721.6" y1="142.4" x2="721.6" y2="128.2" stroke="#000" stroke-width="3.2" />
<path d="M721.6,106.6 L714.1,128.2 L729.1,128.2 Z" fill="#000"/>
<text x="416.4" y="656.6" font-size="45" text-anchor="start" >4-AP</text>
<line x1="464.3" y1="703.9" x2="464.3" y2="682" stroke="#000" stroke-width="3.2" />
<path d="M464.3,663.2 L458.5,682 L470.1,682 Z" fill="#000"/>
<text x="982.3" y="189.3" font-size="38" text-anchor="start" >0 min</text>
<text x="982.3" y="236.1" font-size="38" text-anchor="start" >2 min</text>
<text x="982.3" y="283" font-size="38" text-anchor="start" >4 min</text>
<text x="982.3" y="329.8" font-size="38" text-anchor="start" >6 min</text>
<text x="982.3" y="376.6" font-size="38" text-anchor="start" >8 min</text>
<text x="982.3" y="423.4" font-size="38" text-anchor="start" >10 min</text>
<text x="982.3" y="470.3" font-size="38" text-anchor="start" >12 min</text>
<line x1="957.3" y1="151.2" x2="957.3" y2="480.4" stroke="#000" stroke-width="3.2" />
<path d="M957.3,500.6 L951.7,480.4 L962.9,480.4 Z" fill="#000"/>
<g id="pb">
<path d="M1421.6,-47.3 L1421.6,-44.3 L1421.6,-41.3 L1421.7,-38.3 L1421.7,-35.3 L1421.7,-32.3 L1421.7,-29.3 L1421.8,-26.3 L1421.8,-23.3 L1421.8,-20.3 L1421.9,-17.3 L1421.9,-14.3 L1421.9,-11.3 L1421.9,-8.3 L1422.0,-5.3 L1422.0,-2.3 L1422.0,0.7 L1422.1,3.7 L1422.1,6.7 L1422.1,9.7 L1422.1,12.7 L1422.2,15.7 L1422.2,18.7 L1422.2,21.7 L1422.3,24.7 L1422.3,27.7 L1422.3,30.7 L1422.4,33.7 L1422.4,36.7 L1422.4,39.7 L1422.5,42.7 L1422.5,45.7 L1422.5,48.7 L1422.6,51.7 L1422.6,54.7 L1422.6,57.7 L1422.7,60.7 L1422.7,63.7 L1422.8,66.7 L1422.8,69.7 L1422.8,72.7 L1422.9,75.7 L1422.9,78.7 L1423.0,81.7 L1423.0,84.7 L1423.0,87.7 L1423.1,90.7 L1423.1,93.7 L1423.2,96.7 L1423.2,99.7 L1423.2,102.7 L1423.3,105.7 L1423.3,108.7 L1423.4,111.7 L1423.4,114.7 L1423.5,117.7 L1423.5,120.7 L1423.5,123.7 L1423.6,126.7 L1423.6,129.7 L1423.7,132.7 L1423.7,135.7 L1423.8,138.7 L1423.8,141.7 L1423.8,144.7 L1423.9,147.7 L1423.9,150.7 L1424.0,153.7 L1424.0,156.7 L1424.1,159.7 L1424.1,162.7 L1424.2,165.7 L1424.2,168.7 L1424.3,171.7 L1424.3,174.7 L1424.4,177.7 L1424.4,180.7 L1424.5,183.7 L1424.6,186.7 L1424.6,189.7 L1424.7,192.7 L1424.7,195.7 L1424.8,198.7 L1424.9,201.7 L1424.9,204.7 L1425.0,207.7 L1425.1,210.7 L1425.1,213.7 L1425.2,216.7 L1425.3,219.7 L1425.4,222.7 L1425.4,225.7 L1425.5,228.7 L1425.6,231.7 L1425.7,234.7 L1425.8,237.7 L1425.9,240.7 L1426.0,243.7 L1426.1,246.7 L1426.2,249.7 L1426.4,252.7 L1426.5,255.7 L1426.6,258.6 L1426.7,261.6 L1426.9,264.6 L1427.0,267.6 L1427.2,270.6 L1427.3,273.6 L1427.4,276.6 L1427.6,279.6 L1427.8,282.6 L1427.9,285.6 L1428.1,288.6 L1428.2,291.6 L1428.4,294.6 L1428.5,297.6 L1428.7,300.6 L1428.9,303.6 L1429.1,306.6 L1429.2,309.6 L1429.4,312.6 L1429.6,315.6 L1429.8,318.6 L1430.0,321.6 L1430.2,324.5 L1430.4,327.5 L1430.6,330.5 L1430.8,333.5 L1431.0,336.5 L1431.2,339.5 L1431.4,342.5 L1431.6,345.5 L1431.7,348.5 L1431.9,351.5 L1432.1,354.5 L1432.3,357.5 L1432.5,360.5 L1432.7,363.5 L1432.8,366.5 L1433.0,369.5 L1433.2,372.5 L1433.4,375.4 L1433.6,378.4 L1433.8,381.4 L1434.0,384.4 L1434.1,387.4 L1434.3,390.4 L1434.5,393.4 L1434.7,396.4 L1435.0,399.4 L1435.2,402.4 L1435.4,405.4 L1435.6,408.4 L1435.9,411.4 L1436.1,414.4 L1436.4,417.3 L1436.6,420.3 L1436.9,423.3 L1437.2,426.3 L1437.4,429.3 L1437.7,432.3 L1438.0,435.3 L1438.3,438.3 L1438.7,441.2 L1439.0,444.2 L1439.3,447.2 L1439.7,450.2 L1440.1,453.1 L1440.5,456.1 L1440.9,459.1 L1441.3,462.1 L1441.7,465.0 L1442.1,468.0 L1442.5,471.0 L1442.9,474.0 L1443.3,476.9 L1443.6,479.9 L1444.0,482.9 L1444.4,485.9 L1444.7,488.8 L1445.1,491.8 L1445.5,494.8 L1445.8,497.8 L1446.2,500.8 L1446.6,503.7 L1447.0,506.7 L1447.4,509.7 L1447.9,512.6 L1448.3,515.6 L1448.8,518.6 L1449.2,521.5 L1449.7,524.5 L1450.2,527.5 L1450.7,530.4 L1451.2,533.4 L1451.7,536.3 L1452.3,539.3 L1452.8,542.2 L1453.4,545.2 L1454.0,548.1 L1454.6,551.0 L1455.3,554.0 L1456.1,556.9 L1456.9,559.8 L1457.7,562.6 L1458.6,565.5 L1459.5,568.4 L1460.4,571.2 L1461.4,574.0 L1462.4,576.9 L1463.5,579.7 L1464.6,582.5 L1465.7,585.3 L1466.8,588.1 L1467.9,590.8 L1469.1,593.6 L1470.3,596.4 L1471.5,599.1 L1472.7,601.8 L1474.0,604.5 L1475.2,607.3 L1476.4,610.0 L1477.6,612.8 L1478.7,615.6 L1479.8,618.4 L1480.8,621.2 L1481.8,624.0 L1482.9,626.8 L1483.9,629.6 L1485.0,632.4 L1486.1,635.2 L1487.2,638.0 L1488.4,640.8 L1489.5,643.5 L1490.7,646.3 L1491.9,649.0 L1493.2,651.8 L1494.5,654.4 L1495.9,657.1 L1497.4,659.7 L1498.9,662.3 L1500.5,664.9 L1502.1,667.4 L1503.9,669.8 L1505.6,672.2 L1507.5,674.6 L1509.5,676.8 L1511.6,679.0 L1513.8,681.0 L1516.0,683.0 L1518.1,685.1 L1520.2,687.3 L1522.1,689.6 L1523.9,692.0 L1525.6,694.5 L1527.2,697.0 L1528.7,699.6 L1530.2,702.2 L1531.5,704.9 L1532.8,707.6 L1533.9,710.4 L1535.0,713.2 L1536.1,716.0 L1537.1,718.8 L1538.2,721.6 L1539.2,724.4 L1540.3,727.2 L1541.4,730.0 L1542.4,732.9 L1543.4,735.7 L1544.4,738.5 L1545.4,741.3 L1546.5,744.1 L1547.6,746.9 L1548.9,749.6 L1550.5,752.2 L1552.3,754.6 L1554.3,756.7 L1556.6,758.4 L1559.4,759.4 L1562.3,759.9 L1565.3,760.2 L1568.3,760.4 L1571.3,760.4 L1574.3,760.3 L1577.2,759.8 L1580.2,759.1 L1583.1,758.6 L1586.1,758.3 L1589.1,758.1 L1592.1,758.0 L1595.1,758.0 L1598.0,758.2 L1601.0,758.6 L1604.0,758.9 L1607.0,759.0 L1609.9,758.7 L1612.6,757.7 L1615.1,756.0 L1617.3,754.0 L1619.2,751.7 L1620.8,749.2 L1622.4,746.7 L1623.9,744.1 L1625.5,741.6 L1627.1,739.0 L1628.7,736.5 L1630.4,734.0 L1631.9,731.4 L1633.5,728.9 L1635.0,726.3 L1636.5,723.7 L1637.9,721.0 L1639.3,718.4 L1640.6,715.7 L1641.9,712.9 L1643.1,710.2 L1644.2,707.4 L1645.4,704.7 L1646.5,701.9 L1647.6,699.1 L1648.7,696.3 L1649.7,693.5 L1650.8,690.7 L1651.8,687.9 L1652.9,685.0 L1653.9,682.2 L1655.0,679.4 L1656.1,676.6 L1657.1,673.8 L1658.2,671.0 L1659.3,668.2 L1660.4,665.5 L1661.6,662.7 L1662.7,659.9 L1663.9,657.1 L1665.0,654.4 L1666.2,651.6 L1667.3,648.8 L1668.5,646.1 L1669.6,643.3 L1670.8,640.5 L1671.9,637.7 L1673.0,634.9 L1674.1,632.2 L1675.2,629.4 L1676.3,626.6 L1677.4,623.8 L1678.4,620.9 L1679.4,618.1 L1680.4,615.3 L1681.4,612.5 L1682.4,609.6 L1683.4,606.8 L1684.4,604.0 L1685.3,601.1 L1686.3,598.3 L1687.2,595.4 L1688.2,592.6 L1689.1,589.7 L1690.0,586.9 L1690.9,584.0 L1691.8,581.1 L1692.6,578.3 L1693.5,575.4 L1694.3,572.5 L1695.1,569.6 L1695.9,566.7 L1696.7,563.8 L1697.5,560.9 L1698.3,558.0 L1699.0,555.1 L1699.7,552.2 L1700.4,549.3 L1701.1,546.4 L1701.8,543.4 L1702.4,540.5 L1703.0,537.6 L1703.6,534.6 L1704.2,531.7 L1704.8,528.7 L1705.3,525.8 L1705.9,522.9 L1706.4,519.9 L1707.0,517.0 L1707.5,514.0 L1708.0,511.0 L1708.6,508.1 L1709.1,505.1 L1709.6,502.2 L1710.1,499.2 L1710.6,496.3 L1711.1,493.3 L1711.6,490.4 L1712.1,487.4 L1712.6,484.4 L1713.1,481.5 L1713.6,478.5 L1714.1,475.6 L1714.7,472.6 L1715.2,469.7 L1715.7,466.7 L1716.2,463.7 L1716.7,460.8 L1717.2,457.8 L1717.7,454.9 L1718.3,451.9 L1718.8,449.0 L1719.3,446.0 L1719.8,443.1 L1720.3,440.1 L1720.8,437.1 L1721.3,434.2 L1721.8,431.2 L1722.3,428.3 L1722.8,425.3 L1723.3,422.3 L1723.8,419.4 L1724.3,416.4 L1724.8,413.5 L1725.2,410.5 L1725.7,407.6 L1726.2,404.6 L1726.7,401.6 L1727.2,398.7 L1727.7,395.7 L1728.2,392.8 L1728.7,389.8 L1729.2,386.8 L1729.7,383.9 L1730.2,380.9 L1730.7,378.0 L1731.2,375.0 L1731.6,372.0 L1732.1,369.1 L1732.6,366.1 L1733.1,363.2 L1733.6,360.2 L1734.1,357.2 L1734.6,354.3 L1735.1,351.3 L1735.6,348.4 L1736.1,345.4 L1736.6,342.4 L1737.1,339.5 L1737.5,336.5 L1738.0,333.6 L1738.5,330.6 L1739.0,327.6 L1739.5,324.7 L1740.0,321.7 L1740.5,318.8 L1741.0,315.8 L1741.5,312.9 L1742.0,309.9 L1742.5,306.9 L1743.0,304.0 L1743.5,301.0 L1744.0,298.1 L1744.5,295.1 L1745.0,292.1 L1745.5,289.2 L1746.0,286.2 L1746.5,283.3 L1747.0,280.3 L1747.5,277.4 L1748.0,274.4 L1748.5,271.4 L1749.0,268.5 L1749.5,265.5 L1750.0,262.6 L1750.6,259.6 L1751.1,256.7 L1751.6,253.7 L1752.1,250.8 L1752.6,247.8 L1753.1,244.8 L1753.6,241.9 L1754.2,238.9 L1754.7,236.0 L1755.2,233.0 L1755.7,230.1 L1756.3,227.1 L1756.8,224.2 L1757.3,221.2 L1757.8,218.3 L1758.4,215.3 L1758.9,212.4 L1759.4,209.4 L1760.0,206.4 L1760.5,203.5 L1761.0,200.5 L1761.5,197.6 L1762.1,194.6 L1762.6,191.7 L1763.1,188.7 L1763.7,185.8 L1764.2,182.8 L1764.8,179.9 L1765.3,176.9 L1765.9,174.0 L1766.5,171.1 L1767.2,168.1 L1767.9,165.2 L1768.6,162.3 L1769.3,159.4 L1770.1,156.5 L1770.9,153.6 L1771.7,150.7 L1772.5,147.8 L1773.4,145.0 L1774.3,142.1 L1775.2,139.2 L1776.1,136.4 L1777.0,133.5 L1777.9,130.6 L1778.8,127.8 L1779.6,124.9 L1780.5,122.0 L1781.4,119.2 L1782.3,116.3 L1783.3,113.5 L1784.3,110.7 L1785.5,107.9 L1786.8,105.2 L1788.3,102.6 L1790.0,100.1 L1791.8,97.8 L1793.9,95.7 L1796.4,94.3 L1799.1,94.3 L1801.7,95.5 L1804.0,97.3 L1806.1,99.4 L1808.1,101.6 L1809.8,104.1 L1811.3,106.7 L1812.7,109.4 L1813.9,112.1 L1815.0,114.9 L1816.1,117.7 L1817.0,120.5 L1817.7,123.4 L1818.4,126.4 L1818.9,129.3 L1819.5,132.3 L1820.0,135.2 L1820.5,138.2 L1821.0,141.1 L1821.5,144.1 L1822.0,147.0 L1822.5,150.0 L1822.9,153.0 L1823.4,155.9 L1823.9,158.9 L1824.5,161.8 L1825.0,164.8 L1825.6,167.7 L1826.1,170.7 L1826.7,173.6 L1827.2,176.6 L1827.8,179.5 L1828.4,182.5 L1828.9,185.4 L1829.5,188.4 L1830.0,191.3 L1830.5,194.3 L1831.1,197.2 L1831.6,200.2 L1832.1,203.1 L1832.6,206.1 L1833.0,209.1 L1833.5,212.0 L1834.0,215.0 L1834.4,218.0 L1834.9,220.9 L1835.3,223.9 L1835.7,226.9 L1836.1,229.8 L1836.5,232.8 L1836.9,235.8 L1837.3,238.8 L1837.6,241.7 L1838.0,244.7 L1838.4,247.7 L1838.7,250.7 L1839.1,253.7 L1839.4,256.6 L1839.8,259.6 L1840.1,262.6 L1840.5,265.6 L1840.8,268.6 L1841.2,271.5 L1841.5,274.5 L1841.9,277.5 L1842.2,280.5 L1842.5,283.5 L1842.9,286.4 L1843.2,289.4 L1843.5,292.4 L1843.9,295.4 L1844.2,298.4 L1844.5,301.3 L1844.9,304.3 L1845.2,307.3 L1845.6,310.3 L1845.9,313.3 L1846.3,316.2 L1846.6,319.2 L1846.9,322.2 L1847.3,325.2 L1847.7,328.2 L1848.0,331.1 L1848.4,334.1 L1848.7,337.1 L1849.1,340.1 L1849.4,343.1 L1849.8,346.0 L1850.1,349.0 L1850.5,352.0 L1850.8,355.0 L1851.2,358.0 L1851.5,360.9 L1851.9,363.9 L1852.2,366.9 L1852.6,369.9 L1852.9,372.9 L1853.3,375.8 L1853.6,378.8 L1853.9,381.8 L1854.3,384.8 L1854.6,387.8 L1855.0,390.7 L1855.3,393.7 L1855.7,396.7 L1856.1,399.7 L1856.4,402.6 L1856.8,405.6 L1857.1,408.6 L1857.5,411.6 L1857.9,414.6 L1858.2,417.5 L1858.6,420.5 L1859.0,423.5 L1859.3,426.5 L1859.7,429.4 L1860.1,432.4 L1860.5,435.4 L1860.9,438.4 L1861.3,441.3 L1861.7,444.3 L1862.1,447.3 L1862.5,450.3 L1862.9,453.2 L1863.3,456.2 L1863.8,459.2 L1864.2,462.1 L1864.6,465.1 L1865.1,468.1 L1865.5,471.0 L1865.9,474.0 L1866.4,477.0 L1866.8,479.9 L1867.3,482.9 L1867.7,485.9 L1868.2,488.8 L1868.6,491.8 L1869.1,494.8 L1869.5,497.7 L1870.0,500.7 L1870.5,503.7 L1870.9,506.6 L1871.4,509.6 L1871.8,512.6 L1872.3,515.5 L1872.7,518.5 L1873.2,521.5 L1873.6,524.4 L1874.1,527.4 L1874.5,530.4 L1875.0,533.3 L1875.4,536.3 L1875.8,539.3 L1876.3,542.2 L1876.7,545.2 L1877.2,548.2 L1877.6,551.1 L1878.0,554.1 L1878.5,557.1 L1878.9,560.0 L1879.3,563.0 L1879.8,566.0 L1880.2,568.9 L1880.6,571.9 L1881.1,574.9 L1881.5,577.9 L1881.9,580.8 L1882.4,583.8 L1882.8,586.8 L1883.3,589.7 L1883.7,592.7 L1884.1,595.7 L1884.6,598.6 L1885.1,601.6 L1885.5,604.6 L1886.0,607.5 L1886.4,610.5 L1886.9,613.4 L1887.4,616.4 L1887.9,619.4 L1888.3,622.3 L1888.8,625.3 L1889.3,628.2 L1889.8,631.2 L1890.3,634.2 L1890.8,637.1 L1891.2,640.1 L1891.7,643.1 L1892.2,646.0 L1892.7,649.0 L1893.2,651.9 L1893.7,654.9 L1894.2,657.9 L1894.7,660.8 L1895.2,663.8 L1895.7,666.7 L1896.2,669.7 L1896.8,672.6 L1897.3,675.6 L1897.9,678.5 L1898.4,681.5 L1899.0,684.4 L1899.6,687.4 L1900.2,690.3 L1900.9,693.2 L1901.6,696.1 L1902.3,699.1 L1903.0,702.0 L1903.7,704.9 L1904.5,707.8 L1905.3,710.7 L1906.1,713.6 L1906.9,716.4 L1907.7,719.3 L1908.6,722.2 L1909.5,725.1 L1910.5,727.9 L1911.4,730.7 L1912.4,733.6 L1913.5,736.4 L1914.6,739.2 L1915.7,741.9 L1916.9,744.7 L1918.2,747.4 L1919.4,750.1 L1920.8,752.8 L1922.1,755.5 L1923.4,758.2 L1924.7,760.9 L1926.0,763.6 L1927.3,766.3 L1928.6,769.0 L1930.0,771.7 L1931.4,774.4 L1932.8,777.0 L1934.4,779.5 L1936.1,782.0 L1937.7,784.5 L1939.5,786.9 L1941.4,789.3 L1943.4,791.5 L1945.7,793.3 L1948.4,794.7 L1951.1,795.9 L1954.0,796.8 L1956.9,797.4 L1959.9,797.6 L1962.9,797.7 L1965.9,797.7 L1968.9,797.8 L1971.9,797.8 L1974.9,797.8 L1977.9,797.8 L1980.9,797.8 L1983.9,797.9 L1986.9,797.9 L1989.9,797.9 L1992.9,797.9 L1995.9,797.9 L1998.9,797.9 L2001.9,798.0 L2004.9,798.0 L2007.9,798.0 L2010.9,798.0 L2013.9,798.0 L2016.9,798.0 L2019.9,798.1 L2022.9,798.1 L2025.9,798.1 L2028.9,798.1 L2031.9,798.1 L2034.9,798.1 L2037.9,798.1 L2040.9,798.1 L2043.9,798.1 L2046.9,798.2 L2049.9,798.2 L2052.9,798.2 L2055.9,798.2 L2058.9,798.2 L2061.9,798.2 L2064.9,798.2 L2067.9,798.2 L2070.9,798.2 L2073.9,798.2 L2076.9,798.2 L2079.9,798.2 L2082.9,798.3 L2085.9,798.3 L2088.9,798.3 L2091.9,798.3 L2094.9,798.3 L2097.9,798.3 L2100.9,798.3 L2103.9,798.3 L2106.9,798.3 L2109.9,798.3 L2112.9,798.3 L2115.9,798.3 L2118.9,798.3 L2121.9,798.3 L2124.9,798.3 L2127.9,798.3 L2130.9,798.3 L2133.9,798.3 L2136.9,798.3 L2139.9,798.3 L2142.9,798.3 L2145.9,798.3 L2148.9,798.3 L2151.9,798.3 L2154.9,798.3 L2157.9,798.3 L2160.9,798.3 L2163.9,798.3 L2166.9,798.3 L2169.9,798.3 L2172.9,798.3 L2175.9,798.3 L2178.9,798.3 L2181.9,798.3 L2184.9,798.3 L2187.9,798.3 L2190.9,798.3 L2193.9,798.3 L2196.9,798.3 L2199.9,798.3 L2200.9,798.3" fill="none" stroke="#000000" stroke-width="4.8" stroke-linejoin="round" stroke-linecap="round" clip-path="url(#cb)"/>
<path d="M1412.1,-47.3 L1412.1,-44.3 L1412.1,-41.3 L1412.1,-38.3 L1412.2,-35.3 L1412.2,-32.3 L1412.2,-29.3 L1412.2,-26.3 L1412.2,-23.3 L1412.2,-20.3 L1412.2,-17.3 L1412.2,-14.3 L1412.2,-11.3 L1412.3,-8.3 L1412.3,-5.3 L1412.3,-2.3 L1412.3,0.7 L1412.3,3.7 L1412.3,6.7 L1412.3,9.7 L1412.3,12.7 L1412.3,15.7 L1412.4,18.7 L1412.4,21.7 L1412.4,24.7 L1412.4,27.7 L1412.4,30.7 L1412.4,33.7 L1412.4,36.7 L1412.5,39.7 L1412.5,42.7 L1412.5,45.7 L1412.5,48.7 L1412.5,51.7 L1412.5,54.7 L1412.6,57.7 L1412.6,60.7 L1412.6,63.7 L1412.6,66.7 L1412.7,69.7 L1412.7,72.7 L1412.7,75.7 L1412.8,78.7 L1412.8,81.7 L1412.8,84.7 L1412.9,87.7 L1412.9,90.7 L1412.9,93.7 L1412.9,96.7 L1413.0,99.7 L1413.0,102.7 L1413.1,105.7 L1413.1,108.7 L1413.1,111.7 L1413.2,114.7 L1413.2,117.7 L1413.2,120.7 L1413.3,123.7 L1413.3,126.7 L1413.4,129.7 L1413.4,132.7 L1413.5,135.7 L1413.5,138.7 L1413.6,141.7 L1413.6,144.7 L1413.7,147.7 L1413.7,150.7 L1413.8,153.7 L1413.8,156.7 L1413.9,159.7 L1413.9,162.7 L1414.0,165.7 L1414.0,168.7 L1414.1,171.7 L1414.2,174.7 L1414.2,177.7 L1414.3,180.7 L1414.4,183.7 L1414.5,186.7 L1414.5,189.7 L1414.6,192.7 L1414.7,195.7 L1414.7,198.7 L1414.8,201.7 L1414.9,204.7 L1415.0,207.7 L1415.0,210.7 L1415.1,213.7 L1415.2,216.7 L1415.2,219.7 L1415.3,222.7 L1415.4,225.7 L1415.4,228.7 L1415.5,231.7 L1415.6,234.7 L1415.6,237.7 L1415.7,240.7 L1415.8,243.7 L1415.8,246.7 L1415.9,249.7 L1416.0,252.7 L1416.1,255.7 L1416.1,258.7 L1416.2,261.7 L1416.3,264.7 L1416.4,267.7 L1416.4,270.7 L1416.5,273.7 L1416.6,276.7 L1416.7,279.7 L1416.8,282.7 L1416.9,285.7 L1416.9,288.7 L1417.0,291.7 L1417.1,294.7 L1417.2,297.6 L1417.3,300.6 L1417.4,303.6 L1417.5,306.6 L1417.5,309.6 L1417.6,312.6 L1417.7,315.6 L1417.8,318.6 L1417.9,321.6 L1417.9,324.6 L1418.0,327.6 L1418.1,330.6 L1418.2,333.6 L1418.3,336.6 L1418.3,339.6 L1418.4,342.6 L1418.5,345.6 L1418.5,348.6 L1418.6,351.6 L1418.7,354.6 L1418.7,357.6 L1418.8,360.6 L1418.9,363.6 L1418.9,366.6 L1419.0,369.6 L1419.1,372.6 L1419.1,375.6 L1419.2,378.6 L1419.3,381.6 L1419.3,384.6 L1419.4,387.6 L1419.5,390.6 L1419.6,393.6 L1419.7,396.6 L1419.8,399.6 L1419.9,402.6 L1420.1,405.6 L1420.2,408.6 L1420.4,411.6 L1420.6,414.6 L1420.8,417.6 L1421.0,420.6 L1421.3,423.6 L1421.5,426.6 L1421.7,429.5 L1422.0,432.5 L1422.2,435.5 L1422.5,438.5 L1422.7,441.5 L1423.0,444.5 L1423.2,447.5 L1423.5,450.5 L1423.8,453.5 L1424.1,456.4 L1424.4,459.4 L1424.7,462.4 L1425.1,465.4 L1425.4,468.4 L1425.8,471.4 L1426.1,474.3 L1426.5,477.3 L1426.9,480.3 L1427.3,483.3 L1427.7,486.2 L1428.1,489.2 L1428.5,492.2 L1428.9,495.1 L1429.3,498.1 L1429.7,501.1 L1430.1,504.1 L1430.5,507.0 L1431.0,510.0 L1431.6,512.9 L1432.3,515.8 L1433.2,518.5 L1434.4,519.6 L1435.6,518.3 L1436.6,515.7 L1437.4,512.8 L1438.2,510.0 L1439.0,507.0 L1439.7,504.1 L1440.5,501.2 L1441.4,498.4 L1442.3,495.5 L1443.4,492.7 L1444.5,490.0 L1445.9,487.3 L1447.4,484.7 L1449.1,482.3 L1451.3,480.6 L1453.8,480.5 L1456.1,481.8 L1458.2,484.0 L1459.9,486.4 L1461.3,489.0 L1462.4,491.8 L1463.3,494.7 L1464.2,497.6 L1465.0,500.4 L1465.8,503.3 L1466.6,506.2 L1467.4,509.1 L1468.1,512.0 L1468.8,515.0 L1469.4,517.9 L1470.1,520.8 L1470.7,523.7 L1471.3,526.7 L1471.9,529.6 L1472.5,532.6 L1473.0,535.5 L1473.6,538.5 L1474.1,541.4 L1474.6,544.4 L1475.1,547.3 L1475.6,550.3 L1476.1,553.3 L1476.5,556.2 L1477.0,559.2 L1477.5,562.1 L1477.9,565.1 L1478.3,568.1 L1478.7,571.1 L1479.1,574.0 L1479.5,577.0 L1479.9,580.0 L1480.2,583.0 L1480.6,585.9 L1480.9,588.9 L1481.3,591.9 L1481.6,594.9 L1482.0,597.9 L1482.3,600.8 L1482.7,603.8 L1483.0,606.8 L1483.4,609.8 L1483.7,612.8 L1484.1,615.7 L1484.5,618.7 L1484.9,621.7 L1485.4,624.6 L1485.9,627.6 L1486.4,630.6 L1486.9,633.5 L1487.4,636.5 L1488.0,639.4 L1488.5,642.4 L1489.1,645.3 L1489.7,648.2 L1490.4,651.2 L1491.0,654.1 L1491.6,657.0 L1492.3,660.0 L1492.9,662.9 L1493.6,665.8 L1494.2,668.8 L1494.9,671.7 L1495.5,674.6 L1496.2,677.5 L1496.9,680.5 L1497.6,683.4 L1498.2,686.3 L1498.9,689.2 L1499.7,692.1 L1500.4,695.0 L1501.1,697.9 L1501.9,700.8 L1502.7,703.7 L1503.6,706.6 L1504.4,709.5 L1505.3,712.4 L1506.2,715.2 L1507.1,718.1 L1508.0,720.9 L1508.9,723.8 L1509.9,726.6 L1511.0,729.4 L1512.1,732.2 L1513.3,734.9 L1514.7,737.6 L1516.1,740.3 L1517.6,742.9 L1519.1,745.4 L1520.8,747.9 L1522.8,750.1 L1525.2,751.8 L1527.9,753.1 L1530.7,754.1 L1533.6,754.8 L1536.6,755.1 L1539.5,755.0 L1542.5,754.5 L1545.3,753.6 L1548.0,752.4 L1550.5,750.7 L1552.7,748.7 L1554.8,746.6 L1556.9,744.4 L1558.7,742.1 L1560.5,739.7 L1562.1,737.1 L1563.7,734.6 L1565.3,732.0 L1566.9,729.5 L1568.6,727.0 L1570.4,724.6 L1572.4,722.4 L1574.6,720.4 L1576.8,718.4 L1579.1,716.4 L1581.4,714.5 L1583.8,712.8 L1586.4,711.2 L1589.1,710.0 L1592.0,709.3 L1594.9,709.3 L1597.9,709.7 L1600.8,710.4 L1603.5,711.5 L1606.0,713.2 L1608.1,715.2 L1610.1,717.5 L1611.9,719.8 L1613.8,722.2 L1615.6,724.6 L1617.3,727.1 L1618.9,729.6 L1620.5,732.2 L1622.0,734.8 L1623.4,737.4 L1624.9,740.0 L1626.4,742.6 L1627.9,745.2 L1629.5,747.8 L1631.1,750.3 L1632.7,752.8 L1634.5,755.2 L1636.3,757.6 L1638.2,759.9 L1640.1,762.3 L1642.0,764.6 L1644.0,766.8 L1646.1,769.0 L1648.2,771.1 L1650.4,773.1 L1652.8,775.0 L1655.2,776.8 L1657.6,778.5 L1660.0,780.3 L1662.5,781.9 L1665.1,783.5 L1667.8,784.8 L1670.5,786.0 L1673.4,786.9 L1676.3,787.5 L1679.3,788.0 L1682.2,788.4 L1685.2,788.8 L1688.2,789.2 L1691.2,789.6 L1694.1,789.9 L1697.1,790.2 L1700.1,790.5 L1703.1,790.7 L1706.1,790.8 L1709.1,791.0 L1712.1,791.1 L1715.1,791.1 L1718.1,791.2 L1721.1,791.2 L1724.1,791.2 L1727.1,791.2 L1730.1,791.2 L1733.1,791.2 L1736.1,791.2 L1739.1,791.2 L1742.1,791.2 L1745.1,791.2 L1748.1,791.2 L1751.1,791.2 L1754.1,791.2 L1757.1,791.2 L1760.1,791.2 L1763.1,791.2 L1766.1,791.2 L1769.1,791.2 L1772.1,791.2 L1775.1,791.2 L1778.1,791.2 L1781.1,791.2 L1784.1,791.2 L1787.1,791.2 L1790.1,791.2 L1793.1,791.2 L1796.1,791.2 L1799.1,791.2 L1802.1,791.2 L1805.1,791.2 L1808.1,791.2 L1811.1,791.3 L1814.1,791.3 L1817.1,791.4 L1820.1,791.5 L1823.1,791.6 L1826.1,791.7 L1829.1,791.7 L1832.1,791.8 L1835.1,792.0 L1838.1,792.1 L1841.1,792.2 L1844.1,792.3 L1847.1,792.4 L1850.1,792.6 L1853.1,792.7 L1856.1,792.8 L1859.1,793.0 L1862.1,793.1 L1865.1,793.2 L1868.1,793.3 L1871.1,793.5 L1874.0,793.6 L1877.0,793.7 L1880.0,793.8 L1883.0,794.0 L1886.0,794.1 L1889.0,794.3 L1892.0,794.4 L1895.0,794.6 L1898.0,794.8 L1901.0,794.9 L1904.0,795.1 L1907.0,795.3 L1910.0,795.5 L1913.0,795.7 L1916.0,795.9 L1919.0,796.1 L1922.0,796.2 L1925.0,796.4 L1928.0,796.6 L1931.0,796.8 L1934.0,796.9 L1937.0,797.1 L1939.9,797.2 L1942.9,797.3 L1945.9,797.4 L1948.9,797.5 L1951.9,797.6 L1954.9,797.6 L1957.9,797.7 L1960.9,797.7 L1963.9,797.7 L1966.9,797.7 L1969.9,797.8 L1972.9,797.8 L1975.9,797.8 L1978.9,797.8 L1981.9,797.8 L1984.9,797.8 L1987.9,797.9 L1990.9,797.9 L1993.9,797.9 L1996.9,797.9 L1999.9,797.9 L2002.9,797.9 L2005.9,797.9 L2008.9,798.0 L2011.9,798.0 L2014.9,798.0 L2017.9,798.0 L2020.9,798.0 L2023.9,798.0 L2026.9,798.0 L2029.9,798.0 L2032.9,798.1 L2035.9,798.1 L2038.9,798.1 L2041.9,798.1 L2044.9,798.1 L2047.9,798.1 L2050.9,798.1 L2053.9,798.1 L2056.9,798.1 L2059.9,798.1 L2062.9,798.2 L2065.9,798.2 L2068.9,798.2 L2071.9,798.2 L2074.9,798.2 L2077.9,798.2 L2080.9,798.2 L2083.9,798.2 L2086.9,798.2 L2089.9,798.2 L2092.9,798.2 L2095.9,798.2 L2098.9,798.2 L2101.9,798.2 L2104.9,798.3 L2107.9,798.3 L2110.9,798.3 L2113.9,798.3 L2116.9,798.3 L2119.9,798.3 L2122.9,798.3 L2125.9,798.3 L2128.9,798.3 L2131.9,798.3 L2134.9,798.3 L2137.9,798.3 L2140.9,798.3 L2143.9,798.3 L2146.9,798.3 L2149.9,798.3 L2152.9,798.3 L2155.9,798.3 L2158.9,798.3 L2161.9,798.3 L2164.9,798.3 L2167.9,798.3 L2170.9,798.3 L2173.9,798.3 L2176.9,798.3 L2179.9,798.3 L2182.9,798.3 L2185.9,798.3 L2188.9,798.3 L2191.9,798.3 L2194.9,798.3 L2197.9,798.3 L2200.9,798.3" fill="none" stroke="#ff0000" stroke-width="4.8" stroke-linejoin="round" stroke-linecap="round" clip-path="url(#cb)"/>
<path d="M1413.9,-47.3 L1413.9,-44.3 L1413.9,-41.3 L1414.0,-38.3 L1414.0,-35.3 L1414.0,-32.3 L1414.0,-29.3 L1414.0,-26.3 L1414.0,-23.3 L1414.0,-20.3 L1414.0,-17.3 L1414.0,-14.3 L1414.1,-11.3 L1414.1,-8.3 L1414.1,-5.3 L1414.1,-2.3 L1414.1,0.7 L1414.1,3.7 L1414.1,6.7 L1414.1,9.7 L1414.1,12.7 L1414.2,15.7 L1414.2,18.7 L1414.2,21.7 L1414.2,24.7 L1414.2,27.7 L1414.2,30.7 L1414.2,33.7 L1414.3,36.7 L1414.3,39.7 L1414.3,42.7 L1414.3,45.7 L1414.3,48.7 L1414.3,51.7 L1414.3,54.7 L1414.4,57.7 L1414.4,60.7 L1414.4,63.7 L1414.4,66.7 L1414.5,69.7 L1414.5,72.7 L1414.5,75.7 L1414.5,78.7 L1414.6,81.7 L1414.6,84.7 L1414.6,87.7 L1414.6,90.7 L1414.7,93.7 L1414.7,96.7 L1414.7,99.7 L1414.8,102.7 L1414.8,105.7 L1414.8,108.7 L1414.8,111.7 L1414.9,114.7 L1414.9,117.7 L1414.9,120.7 L1415.0,123.7 L1415.0,126.7 L1415.0,129.7 L1415.1,132.7 L1415.1,135.7 L1415.1,138.7 L1415.2,141.7 L1415.2,144.7 L1415.3,147.7 L1415.3,150.7 L1415.3,153.7 L1415.4,156.7 L1415.4,159.7 L1415.5,162.7 L1415.5,165.7 L1415.5,168.7 L1415.6,171.7 L1415.6,174.7 L1415.7,177.7 L1415.7,180.7 L1415.8,183.7 L1415.8,186.7 L1415.9,189.7 L1415.9,192.7 L1416.0,195.7 L1416.1,198.7 L1416.1,201.7 L1416.2,204.7 L1416.2,207.7 L1416.3,210.7 L1416.3,213.7 L1416.4,216.7 L1416.5,219.7 L1416.5,222.7 L1416.6,225.7 L1416.6,228.7 L1416.7,231.7 L1416.7,234.7 L1416.8,237.7 L1416.9,240.7 L1416.9,243.7 L1417.0,246.7 L1417.1,249.7 L1417.1,252.7 L1417.2,255.7 L1417.3,258.7 L1417.3,261.7 L1417.4,264.7 L1417.5,267.7 L1417.6,270.7 L1417.6,273.7 L1417.7,276.7 L1417.8,279.7 L1417.9,282.7 L1417.9,285.7 L1418.0,288.7 L1418.1,291.7 L1418.2,294.7 L1418.3,297.7 L1418.4,300.7 L1418.4,303.7 L1418.5,306.7 L1418.6,309.7 L1418.7,312.7 L1418.8,315.7 L1418.9,318.7 L1419.0,321.7 L1419.1,324.7 L1419.2,327.6 L1419.3,330.6 L1419.4,333.6 L1419.4,336.6 L1419.5,339.6 L1419.6,342.6 L1419.7,345.6 L1419.8,348.6 L1419.9,351.6 L1420.0,354.6 L1420.1,357.6 L1420.2,360.6 L1420.3,363.6 L1420.4,366.6 L1420.5,369.6 L1420.6,372.6 L1420.7,375.6 L1420.8,378.6 L1420.9,381.6 L1421.0,384.6 L1421.1,387.6 L1421.2,390.6 L1421.3,393.6 L1421.5,396.6 L1421.6,399.6 L1421.8,402.6 L1421.9,405.6 L1422.1,408.6 L1422.3,411.6 L1422.4,414.6 L1422.6,417.6 L1422.8,420.6 L1423.1,423.6 L1423.3,426.6 L1423.5,429.5 L1423.8,432.5 L1424.0,435.5 L1424.3,438.5 L1424.6,441.5 L1424.9,444.5 L1425.1,447.5 L1425.4,450.5 L1425.8,453.4 L1426.1,456.4 L1426.4,459.4 L1426.8,462.4 L1427.3,465.3 L1427.7,468.3 L1428.2,471.3 L1428.8,474.2 L1429.4,477.2 L1430.0,480.1 L1430.7,483.0 L1431.6,485.9 L1432.9,488.5 L1434.7,490.7 L1436.9,491.5 L1439.1,490.5 L1441.0,488.3 L1442.7,485.9 L1444.3,483.4 L1445.8,480.8 L1447.4,478.2 L1448.9,475.6 L1450.4,473.0 L1452.0,470.5 L1453.7,468.0 L1455.7,465.9 L1457.9,464.9 L1460.0,465.9 L1461.6,468.2 L1462.9,470.9 L1464.1,473.6 L1465.3,476.4 L1466.3,479.2 L1467.2,482.1 L1468.1,484.9 L1468.9,487.8 L1469.7,490.7 L1470.4,493.6 L1471.0,496.6 L1471.6,499.5 L1472.2,502.5 L1472.7,505.4 L1473.2,508.4 L1473.6,511.3 L1474.0,514.3 L1474.4,517.3 L1474.8,520.3 L1475.2,523.2 L1475.6,526.2 L1475.9,529.2 L1476.3,532.2 L1476.6,535.2 L1476.9,538.1 L1477.3,541.1 L1477.6,544.1 L1477.9,547.1 L1478.2,550.1 L1478.4,553.1 L1478.7,556.0 L1479.0,559.0 L1479.3,562.0 L1479.6,565.0 L1479.9,568.0 L1480.1,571.0 L1480.4,574.0 L1480.7,576.9 L1481.1,579.9 L1481.4,582.9 L1481.7,585.9 L1482.1,588.9 L1482.4,591.9 L1482.8,594.8 L1483.2,597.8 L1483.7,600.8 L1484.1,603.7 L1484.5,606.7 L1485.0,609.7 L1485.4,612.6 L1485.9,615.6 L1486.4,618.6 L1486.8,621.5 L1487.4,624.5 L1487.9,627.4 L1488.4,630.4 L1489.0,633.3 L1489.6,636.3 L1490.2,639.2 L1490.8,642.1 L1491.5,645.1 L1492.2,648.0 L1492.9,650.9 L1493.7,653.8 L1494.5,656.7 L1495.3,659.6 L1496.2,662.4 L1497.0,665.3 L1497.9,668.2 L1498.7,671.1 L1499.6,674.0 L1500.4,676.8 L1501.2,679.7 L1502.0,682.6 L1502.8,685.5 L1503.7,688.4 L1504.5,691.3 L1505.3,694.1 L1506.2,697.0 L1507.1,699.9 L1508.1,702.7 L1509.1,705.5 L1510.2,708.3 L1511.3,711.1 L1512.5,713.9 L1513.7,716.6 L1515.0,719.3 L1516.3,722.0 L1517.7,724.7 L1519.1,727.3 L1520.7,729.9 L1522.3,732.4 L1523.9,734.9 L1525.6,737.4 L1527.3,739.9 L1529.1,742.2 L1531.3,744.3 L1533.8,745.7 L1536.6,746.3 L1539.6,746.6 L1542.6,746.7 L1545.6,746.7 L1548.4,746.2 L1551.0,744.8 L1553.2,742.8 L1555.2,740.6 L1557.2,738.3 L1559.1,736.1 L1561.1,733.8 L1562.9,731.4 L1564.7,729.0 L1566.5,726.6 L1568.3,724.2 L1570.1,721.9 L1572.2,719.7 L1574.4,717.7 L1576.7,715.8 L1579.1,713.9 L1581.5,712.1 L1584.0,710.5 L1586.6,709.0 L1589.4,707.9 L1592.3,707.4 L1595.2,707.4 L1598.1,708.1 L1600.8,709.2 L1603.4,710.8 L1605.6,712.7 L1607.7,714.9 L1609.7,717.1 L1611.6,719.5 L1613.5,721.8 L1615.3,724.1 L1617.1,726.5 L1618.9,729.0 L1620.6,731.4 L1622.2,733.9 L1623.8,736.5 L1625.5,739.0 L1627.1,741.5 L1628.8,744.0 L1630.4,746.5 L1632.2,748.9 L1634.0,751.3 L1635.9,753.7 L1637.7,756.0 L1639.6,758.4 L1641.5,760.7 L1643.4,763.0 L1645.4,765.2 L1647.5,767.3 L1649.8,769.3 L1652.2,771.2 L1654.6,772.9 L1657.1,774.5 L1659.7,776.1 L1662.3,777.6 L1664.9,778.9 L1667.7,780.1 L1670.5,781.1 L1673.4,781.8 L1676.4,782.2 L1679.4,782.5 L1682.4,782.7 L1685.4,782.9 L1688.4,783.1 L1691.4,783.2 L1694.4,783.3 L1697.4,783.3 L1700.3,783.1 L1703.3,782.7 L1706.2,782.0 L1709.1,781.2 L1712.0,780.4 L1714.9,779.5 L1717.7,778.6 L1720.6,777.8 L1723.5,777.2 L1726.5,776.7 L1729.5,776.3 L1732.5,775.9 L1735.4,775.6 L1738.4,775.2 L1741.4,774.9 L1744.4,774.7 L1747.4,774.5 L1750.4,774.3 L1753.4,774.3 L1756.4,774.2 L1759.4,774.2 L1762.4,774.2 L1765.4,774.2 L1768.4,774.2 L1771.4,774.2 L1774.4,774.2 L1777.4,774.2 L1780.4,774.2 L1783.4,774.2 L1786.4,774.2 L1789.4,774.2 L1792.4,774.2 L1795.4,774.2 L1798.4,774.2 L1801.4,774.3 L1804.4,774.4 L1807.4,774.6 L1810.4,774.9 L1813.3,775.2 L1816.3,775.5 L1819.3,775.9 L1822.3,776.3 L1825.2,776.8 L1828.2,777.2 L1831.2,777.7 L1834.1,778.1 L1837.1,778.6 L1840.1,779.0 L1843.0,779.5 L1846.0,780.1 L1848.9,780.7 L1851.8,781.3 L1854.8,782.0 L1857.7,782.6 L1860.6,783.3 L1863.5,784.0 L1866.5,784.7 L1869.4,785.3 L1872.3,786.0 L1875.2,786.6 L1878.2,787.1 L1881.1,787.7 L1884.1,788.2 L1887.0,788.8 L1890.0,789.3 L1892.9,789.9 L1895.9,790.4 L1898.9,790.9 L1901.8,791.4 L1904.8,791.9 L1907.7,792.3 L1910.7,792.7 L1913.7,793.1 L1916.7,793.5 L1919.6,793.8 L1922.6,794.2 L1925.6,794.5 L1928.6,794.8 L1931.6,795.2 L1934.6,795.5 L1937.5,795.8 L1940.5,796.0 L1943.5,796.3 L1946.5,796.5 L1949.5,796.7 L1952.5,796.8 L1955.5,797.0 L1958.5,797.0 L1961.5,797.1 L1964.5,797.1 L1967.5,797.1 L1970.5,797.1 L1973.5,797.1 L1976.5,797.1 L1979.5,797.2 L1982.5,797.2 L1985.5,797.2 L1988.5,797.2 L1991.5,797.2 L1994.5,797.2 L1997.5,797.3 L2000.5,797.3 L2003.5,797.3 L2006.5,797.3 L2009.5,797.3 L2012.5,797.3 L2015.5,797.4 L2018.5,797.4 L2021.5,797.4 L2024.5,797.4 L2027.5,797.4 L2030.5,797.4 L2033.5,797.4 L2036.5,797.4 L2039.5,797.4 L2042.5,797.5 L2045.5,797.5 L2048.5,797.5 L2051.5,797.5 L2054.5,797.5 L2057.5,797.5 L2060.5,797.5 L2063.5,797.5 L2066.5,797.5 L2069.5,797.5 L2072.5,797.5 L2075.5,797.6 L2078.5,797.6 L2081.5,797.6 L2084.5,797.6 L2087.5,797.6 L2090.5,797.6 L2093.5,797.6 L2096.5,797.6 L2099.5,797.6 L2102.5,797.6 L2105.5,797.6 L2108.5,797.6 L2111.5,797.6 L2114.5,797.6 L2117.5,797.6 L2120.5,797.6 L2123.5,797.6 L2126.5,797.7 L2129.5,797.7 L2132.5,797.7 L2135.5,797.7 L2138.5,797.7 L2141.5,797.7 L2144.5,797.7 L2147.5,797.7 L2150.5,797.7 L2153.5,797.7 L2156.5,797.7 L2159.5,797.7 L2162.5,797.7 L2165.5,797.7 L2168.5,797.7 L2171.5,797.7 L2174.5,797.7 L2177.5,797.7 L2180.5,797.7 L2183.5,797.7 L2186.5,797.7 L2189.5,797.7 L2192.5,797.7 L2195.5,797.7 L2198.5,797.7 L2200.5,797.7" fill="none" stroke="#0000ff" stroke-width="4.8" stroke-linejoin="round" stroke-linecap="round" clip-path="url(#cb)"/>
<path d="M1417.6,-47.3 L1417.6,-44.3 L1417.6,-41.3 L1417.6,-38.3 L1417.6,-35.3 L1417.6,-32.3 L1417.6,-29.3 L1417.6,-26.3 L1417.6,-23.3 L1417.7,-20.3 L1417.7,-17.3 L1417.7,-14.3 L1417.7,-11.3 L1417.7,-8.3 L1417.7,-5.3 L1417.7,-2.3 L1417.7,0.7 L1417.7,3.7 L1417.7,6.7 L1417.8,9.7 L1417.8,12.7 L1417.8,15.7 L1417.8,18.7 L1417.8,21.7 L1417.8,24.7 L1417.8,27.7 L1417.9,30.7 L1417.9,33.7 L1417.9,36.7 L1417.9,39.7 L1417.9,42.7 L1417.9,45.7 L1417.9,48.7 L1418.0,51.7 L1418.0,54.7 L1418.0,57.7 L1418.0,60.7 L1418.0,63.7 L1418.1,66.7 L1418.1,69.7 L1418.1,72.7 L1418.1,75.7 L1418.1,78.7 L1418.2,81.7 L1418.2,84.7 L1418.2,87.7 L1418.2,90.7 L1418.3,93.7 L1418.3,96.7 L1418.3,99.7 L1418.3,102.7 L1418.3,105.7 L1418.4,108.7 L1418.4,111.7 L1418.4,114.7 L1418.4,117.7 L1418.5,120.7 L1418.5,123.7 L1418.5,126.7 L1418.6,129.7 L1418.6,132.7 L1418.6,135.7 L1418.6,138.7 L1418.7,141.7 L1418.7,144.7 L1418.7,147.7 L1418.8,150.7 L1418.8,153.7 L1418.8,156.7 L1418.9,159.7 L1418.9,162.7 L1418.9,165.7 L1419.0,168.7 L1419.0,171.7 L1419.0,174.7 L1419.1,177.7 L1419.1,180.7 L1419.2,183.7 L1419.2,186.7 L1419.2,189.7 L1419.3,192.7 L1419.3,195.7 L1419.4,198.7 L1419.4,201.7 L1419.5,204.7 L1419.5,207.7 L1419.5,210.7 L1419.6,213.7 L1419.6,216.7 L1419.7,219.7 L1419.7,222.7 L1419.8,225.7 L1419.8,228.7 L1419.9,231.7 L1419.9,234.7 L1420.0,237.7 L1420.1,240.7 L1420.1,243.7 L1420.2,246.7 L1420.2,249.7 L1420.3,252.7 L1420.3,255.7 L1420.4,258.7 L1420.5,261.7 L1420.5,264.7 L1420.6,267.7 L1420.6,270.7 L1420.7,273.7 L1420.8,276.7 L1420.8,279.7 L1420.9,282.7 L1421.0,285.7 L1421.1,288.7 L1421.1,291.7 L1421.2,294.7 L1421.3,297.7 L1421.4,300.7 L1421.4,303.7 L1421.5,306.7 L1421.6,309.7 L1421.7,312.7 L1421.8,315.7 L1421.9,318.7 L1422.0,321.7 L1422.1,324.7 L1422.1,327.7 L1422.2,330.7 L1422.3,333.7 L1422.4,336.7 L1422.6,339.7 L1422.7,342.7 L1422.8,345.6 L1422.9,348.6 L1423.0,351.6 L1423.1,354.6 L1423.3,357.6 L1423.4,360.6 L1423.5,363.6 L1423.7,366.6 L1423.8,369.6 L1423.9,372.6 L1424.1,375.6 L1424.2,378.6 L1424.4,381.6 L1424.6,384.6 L1424.7,387.6 L1424.9,390.6 L1425.1,393.6 L1425.2,396.6 L1425.4,399.6 L1425.6,402.6 L1425.8,405.6 L1426.0,408.6 L1426.2,411.6 L1426.4,414.6 L1426.6,417.5 L1426.8,420.5 L1427.0,423.5 L1427.3,426.5 L1427.5,429.5 L1427.8,432.5 L1428.1,435.5 L1428.4,438.5 L1428.7,441.5 L1429.0,444.4 L1429.3,447.4 L1429.6,450.4 L1430.0,453.4 L1430.4,456.4 L1430.8,459.3 L1431.3,462.3 L1431.8,465.2 L1432.4,468.2 L1432.9,471.1 L1433.6,474.1 L1434.4,476.9 L1435.6,479.7 L1437.2,481.8 L1439.5,482.5 L1442.1,481.7 L1444.6,480.2 L1447.2,478.6 L1449.8,477.2 L1452.6,476.3 L1455.5,475.9 L1458.3,476.2 L1460.7,477.7 L1462.4,480.0 L1463.5,482.7 L1464.3,485.6 L1465.1,488.5 L1465.8,491.4 L1466.5,494.3 L1467.3,497.2 L1468.2,500.1 L1469.0,503.0 L1469.8,505.9 L1470.6,508.8 L1471.2,511.7 L1471.8,514.6 L1472.4,517.6 L1472.9,520.5 L1473.4,523.5 L1473.9,526.5 L1474.4,529.4 L1474.9,532.4 L1475.3,535.3 L1475.8,538.3 L1476.3,541.3 L1476.8,544.2 L1477.2,547.2 L1477.6,550.2 L1478.0,553.1 L1478.4,556.1 L1478.8,559.1 L1479.1,562.1 L1479.4,565.1 L1479.7,568.0 L1480.0,571.0 L1480.3,574.0 L1480.6,577.0 L1480.9,580.0 L1481.2,583.0 L1481.6,585.9 L1481.9,588.9 L1482.3,591.9 L1482.7,594.9 L1483.1,597.8 L1483.5,600.8 L1483.9,603.8 L1484.4,606.8 L1484.8,609.7 L1485.3,612.7 L1485.8,615.6 L1486.3,618.6 L1486.8,621.6 L1487.3,624.5 L1487.8,627.5 L1488.4,630.4 L1488.9,633.4 L1489.5,636.3 L1490.2,639.2 L1490.8,642.2 L1491.5,645.1 L1492.3,648.0 L1493.0,650.9 L1493.8,653.8 L1494.7,656.7 L1495.5,659.5 L1496.4,662.4 L1497.3,665.3 L1498.2,668.1 L1499.1,671.0 L1499.9,673.9 L1500.8,676.8 L1501.6,679.6 L1502.4,682.5 L1503.2,685.4 L1504.1,688.3 L1504.9,691.2 L1505.8,694.0 L1506.7,696.9 L1507.7,699.7 L1508.7,702.5 L1509.9,705.3 L1511.1,708.1 L1512.3,710.8 L1513.7,713.5 L1515.0,716.1 L1516.5,718.8 L1518.0,721.3 L1519.6,723.9 L1521.3,726.4 L1523.0,728.9 L1524.6,731.3 L1526.3,733.8 L1528.1,736.2 L1530.1,738.5 L1532.3,740.3 L1535.0,741.5 L1537.9,742.2 L1540.9,742.5 L1543.8,742.8 L1546.8,742.7 L1549.6,741.9 L1552.1,740.4 L1554.4,738.5 L1556.6,736.4 L1558.7,734.3 L1560.8,732.2 L1562.9,730.0 L1564.8,727.8 L1566.8,725.5 L1568.7,723.2 L1570.8,721.0 L1572.9,719.0 L1575.3,717.0 L1577.6,715.2 L1580.0,713.3 L1582.4,711.6 L1584.9,710.0 L1587.6,708.6 L1590.4,707.7 L1593.3,707.3 L1596.2,707.6 L1599.1,708.5 L1601.9,709.6 L1604.5,711.1 L1606.9,712.8 L1609.2,714.7 L1611.4,716.7 L1613.6,718.8 L1615.7,720.9 L1617.7,723.1 L1619.6,725.5 L1621.5,727.8 L1623.3,730.2 L1625.0,732.6 L1626.8,735.1 L1628.6,737.5 L1630.4,739.8 L1632.3,742.2 L1634.3,744.5 L1636.2,746.7 L1638.2,749.0 L1640.1,751.3 L1642.1,753.6 L1644.1,755.8 L1646.2,757.9 L1648.6,759.8 L1651.1,761.3 L1653.8,762.6 L1656.6,763.7 L1659.4,764.7 L1662.3,765.5 L1665.2,766.2 L1668.2,766.7 L1671.1,766.9 L1674.1,766.9 L1677.1,766.6 L1680.1,766.1 L1683.0,765.5 L1685.9,764.8 L1688.8,763.9 L1691.5,762.8 L1694.2,761.4 L1696.8,759.9 L1699.4,758.4 L1701.9,756.7 L1704.3,755.0 L1706.7,753.2 L1709.0,751.3 L1711.3,749.3 L1713.6,747.3 L1715.8,745.3 L1718.0,743.3 L1720.2,741.3 L1722.4,739.2 L1724.6,737.2 L1726.8,735.2 L1729.0,733.1 L1731.1,731.0 L1733.2,728.9 L1735.3,726.7 L1737.4,724.5 L1739.5,722.4 L1741.5,720.2 L1743.7,718.1 L1745.8,716.0 L1748.0,713.9 L1750.3,712.0 L1752.6,710.1 L1755.0,708.3 L1757.5,706.6 L1760.0,704.9 L1762.5,703.3 L1765.0,701.7 L1767.6,700.2 L1770.3,698.8 L1773.0,697.6 L1775.8,696.6 L1778.7,695.9 L1781.7,695.3 L1784.6,694.7 L1787.6,694.3 L1790.6,693.9 L1793.6,693.6 L1796.5,693.5 L1799.5,693.5 L1802.5,693.9 L1805.4,694.5 L1808.3,695.4 L1811.1,696.4 L1813.9,697.4 L1816.7,698.6 L1819.4,699.8 L1822.1,701.1 L1824.7,702.6 L1827.3,704.2 L1829.8,705.9 L1832.2,707.6 L1834.6,709.4 L1837.0,711.2 L1839.4,713.0 L1841.8,714.8 L1844.1,716.7 L1846.4,718.7 L1848.7,720.6 L1850.9,722.6 L1853.1,724.7 L1855.3,726.7 L1857.5,728.8 L1859.6,730.9 L1861.7,733.1 L1863.7,735.2 L1865.8,737.4 L1867.8,739.7 L1869.8,741.9 L1871.8,744.1 L1873.8,746.3 L1875.9,748.5 L1878.0,750.6 L1880.1,752.7 L1882.3,754.9 L1884.4,756.9 L1886.6,759.0 L1888.7,761.1 L1890.9,763.2 L1893.1,765.2 L1895.4,767.2 L1897.7,769.1 L1900.0,771.0 L1902.3,772.9 L1904.7,774.8 L1907.0,776.6 L1909.4,778.5 L1911.8,780.3 L1914.2,782.1 L1916.6,783.9 L1919.1,785.5 L1921.6,787.1 L1924.3,788.5 L1927.0,789.7 L1929.9,790.7 L1932.7,791.6 L1935.6,792.4 L1938.5,793.2 L1941.4,793.9 L1944.3,794.6 L1947.3,795.2 L1950.2,795.7 L1953.2,796.0 L1956.2,796.3 L1959.2,796.4 L1962.2,796.4 L1965.2,796.4 L1968.2,796.4 L1971.2,796.4 L1974.2,796.4 L1977.2,796.4 L1980.2,796.4 L1983.2,796.4 L1986.2,796.4 L1989.2,796.4 L1992.2,796.4 L1995.2,796.4 L1998.2,796.4 L2001.2,796.4 L2004.2,796.4 L2007.2,796.4 L2010.2,796.4 L2013.2,796.4 L2016.2,796.4 L2019.2,796.4 L2022.2,796.4 L2025.2,796.4 L2028.2,796.4 L2031.2,796.4 L2034.2,796.4 L2037.2,796.4 L2040.2,796.4 L2043.2,796.4 L2046.2,796.4 L2049.2,796.4 L2052.2,796.4 L2055.2,796.4 L2058.2,796.4 L2061.2,796.4 L2064.2,796.4 L2067.2,796.4 L2070.2,796.4 L2073.2,796.4 L2076.2,796.4 L2079.2,796.4 L2082.2,796.4 L2085.2,796.4 L2088.2,796.4 L2091.2,796.4 L2094.2,796.4 L2097.2,796.4 L2100.2,796.4 L2103.2,796.4 L2106.2,796.4 L2109.2,796.4 L2112.2,796.4 L2115.2,796.4 L2118.2,796.4 L2121.2,796.4 L2124.2,796.4 L2127.2,796.4 L2130.2,796.4 L2133.2,796.4 L2136.2,796.4 L2139.2,796.4 L2142.2,796.4 L2145.2,796.4 L2148.2,796.4 L2151.2,796.4 L2154.2,796.4 L2157.2,796.4 L2160.2,796.4 L2163.2,796.4 L2166.2,796.4 L2169.2,796.4 L2172.2,796.4 L2175.2,796.4 L2178.2,796.4 L2181.2,796.4 L2184.2,796.4 L2187.2,796.4 L2190.2,796.4 L2193.2,796.4 L2196.2,796.4 L2199.2,796.4 L2200.2,796.4" fill="none" stroke="#008080" stroke-width="4.8" stroke-linejoin="round" stroke-linecap="round" clip-path="url(#cb)"/>
<rect x="1395.4" y="50" width="1007" height="750.8" fill="none" stroke="#000" stroke-width="5.2"/>
<line x1="1395.4" y1="800.8" x2="1395.4" y2="816.8" stroke="#000" stroke-width="4.2" />
<line x1="1496.1" y1="800.8" x2="1496.1" y2="810.8" stroke="#000" stroke-width="4.2" />
<line x1="1596.8" y1="800.8" x2="1596.8" y2="816.8" stroke="#000" stroke-width="4.2" />
<line x1="1697.5" y1="800.8" x2="1697.5" y2="810.8" stroke="#000" stroke-width="4.2" />
<line x1="1798.2" y1="800.8" x2="1798.2" y2="816.8" stroke="#000" stroke-width="4.2" />
<line x1="1898.9" y1="800.8" x2="1898.9" y2="810.8" stroke="#000" stroke-width="4.2" />
<line x1="1999.6" y1="800.8" x2="1999.6" y2="816.8" stroke="#000" stroke-width="4.2" />
<line x1="2100.3" y1="800.8" x2="2100.3" y2="810.8" stroke="#000" stroke-width="4.2" />
<line x1="2201" y1="800.8" x2="2201" y2="816.8" stroke="#000" stroke-width="4.2" />
<line x1="2301.7" y1="800.8" x2="2301.7" y2="810.8" stroke="#000" stroke-width="4.2" />
<line x1="2402.4" y1="800.8" x2="2402.4" y2="816.8" stroke="#000" stroke-width="4.2" />
<line x1="1377.4" y1="800.3" x2="1395.4" y2="800.3" stroke="#000" stroke-width="4.2" />
<line x1="1385.4" y1="637.3" x2="1395.4" y2="637.3" stroke="#000" stroke-width="4.2" />
<line x1="1377.4" y1="474.3" x2="1395.4" y2="474.3" stroke="#000" stroke-width="4.2" />
<line x1="1385.4" y1="311.3" x2="1395.4" y2="311.3" stroke="#000" stroke-width="4.2" />
<line x1="1377.4" y1="148.3" x2="1395.4" y2="148.3" stroke="#000" stroke-width="4.2" />
</g>
<text transform="translate(1393.9,859.4) scale(1,1.1)" font-size="47" text-anchor="middle">200</text>
<text transform="translate(1595.3,859.4) scale(1,1.1)" font-size="47" text-anchor="middle">300</text>
<text transform="translate(1796.7,859.4) scale(1,1.1)" font-size="47" text-anchor="middle">400</text>
<text transform="translate(1998.1,859.4) scale(1,1.1)" font-size="47" text-anchor="middle">500</text>
<text transform="translate(2199.5,859.4) scale(1,1.1)" font-size="47" text-anchor="middle">600</text>
<text transform="translate(2400.9,859.4) scale(1,1.1)" font-size="47" text-anchor="middle">700</text>
<text x="1369.6" y="813.3" font-size="47" text-anchor="end" >0.0</text>
<text x="1369.6" y="487.3" font-size="47" text-anchor="end" >0.5</text>
<text x="1369.6" y="161.3" font-size="47" text-anchor="end" >1.0</text>
<text x="0" y="0" font-size="45" text-anchor="middle" transform="translate(1301,441.5) rotate(-90)">Absorbance</text>
<text x="1726.1" y="891.9" font-size="45.5" text-anchor="start" textLength="327.5" lengthAdjust="spacingAndGlyphs">Wavelength (nm</text>
<text x="2059.2" y="891.9" font-size="45.5" text-anchor="start" >)</text>
<text x="1452.9" y="127.5" font-size="78">(</text>
<text transform="translate(1481.6,127.5) scale(1.08,1)" font-size="78">b</text>
<text x="1530.5" y="127.5" font-size="78">)</text>
<line x1="2024" y1="88.6" x2="2107" y2="88.6" stroke="#000000" stroke-width="5.5" />
<line x1="2024" y1="158.3" x2="2107" y2="158.3" stroke="#ff0000" stroke-width="5.5" />
<line x1="2024" y1="213.4" x2="2107" y2="213.4" stroke="#0000ff" stroke-width="5.5" />
<line x1="2024" y1="268.4" x2="2107" y2="268.4" stroke="#008080" stroke-width="5.5" />
<text x="2116.6" y="100.3" font-size="45" text-anchor="start" >4-NP+NaBH</text>
<text x="2364.2" y="115" font-size="23" text-anchor="start" >4</text>
<text x="2116.6" y="168.9" font-size="45" text-anchor="start" >CZ-ESM</text>
<text x="2116.6" y="223.9" font-size="44.5" text-anchor="start" >CuO-ESM</text>
<text x="2116.6" y="280.1" font-size="44.5" text-anchor="start" >ZnO-ESM</text>
<rect x="2022" y="357.2" width="56" height="278.8" fill="#0000ff"/>
<rect x="2160" y="362.9" width="56" height="273.1" fill="#0000ff"/>
<rect x="2298" y="397" width="56" height="239" fill="#0000ff"/>
<rect x="1980.8" y="322.7" width="413.2" height="313.3" fill="none" stroke="#000" stroke-width="2.6"/>
<line x1="1973.8" y1="636" x2="1980.8" y2="636" stroke="#000" stroke-width="2.2" />
<line x1="1976.8" y1="607.5" x2="1980.8" y2="607.5" stroke="#000" stroke-width="2.2" />
<line x1="1973.8" y1="579.1" x2="1980.8" y2="579.1" stroke="#000" stroke-width="2.2" />
<line x1="1976.8" y1="550.6" x2="1980.8" y2="550.6" stroke="#000" stroke-width="2.2" />
<line x1="1973.8" y1="522.2" x2="1980.8" y2="522.2" stroke="#000" stroke-width="2.2" />
<line x1="1976.8" y1="493.8" x2="1980.8" y2="493.8" stroke="#000" stroke-width="2.2" />
<line x1="1973.8" y1="465.3" x2="1980.8" y2="465.3" stroke="#000" stroke-width="2.2" />
<line x1="1976.8" y1="436.9" x2="1980.8" y2="436.9" stroke="#000" stroke-width="2.2" />
<line x1="1973.8" y1="408.4" x2="1980.8" y2="408.4" stroke="#000" stroke-width="2.2" />
<line x1="1976.8" y1="379.9" x2="1980.8" y2="379.9" stroke="#000" stroke-width="2.2" />
<line x1="1973.8" y1="351.5" x2="1980.8" y2="351.5" stroke="#000" stroke-width="2.2" />
<line x1="2050" y1="636" x2="2050" y2="642" stroke="#000" stroke-width="2.2" />
<line x1="2188" y1="636" x2="2188" y2="642" stroke="#000" stroke-width="2.2" />
<line x1="2326" y1="636" x2="2326" y2="642" stroke="#000" stroke-width="2.2" />
<line x1="2119" y1="636" x2="2119" y2="646" stroke="#000" stroke-width="2.2" />
<line x1="2257" y1="636" x2="2257" y2="646" stroke="#000" stroke-width="2.2" />
<text x="1971.2" y="643.5" font-size="23" text-anchor="end" font-weight="bold" >0.0</text>
<text x="1971.2" y="586.6" font-size="23" text-anchor="end" font-weight="bold" >0.2</text>
<text x="1971.2" y="529.7" font-size="23" text-anchor="end" font-weight="bold" >0.4</text>
<text x="1971.2" y="472.8" font-size="23" text-anchor="end" font-weight="bold" >0.6</text>
<text x="1971.2" y="415.9" font-size="23" text-anchor="end" font-weight="bold" >0.8</text>
<text x="1971.2" y="359" font-size="23" text-anchor="end" font-weight="bold" >1.0</text>
<text x="2049.3" y="662.9" font-size="23.5" text-anchor="middle" font-weight="bold" >CZ-ESM</text>
<text x="2188" y="662.9" font-size="23.5" text-anchor="middle" font-weight="bold" >CuO-ESM</text>
<text x="2326" y="662.9" font-size="23.5" text-anchor="middle" font-weight="bold" >ZnO-ESM</text>
<text x="2048.7" y="349.2" font-size="17" text-anchor="middle" font-weight="bold" textLength="33" lengthAdjust="spacingAndGlyphs">98%</text>
<text x="2186.2" y="356.2" font-size="17" text-anchor="middle" font-weight="bold" textLength="33" lengthAdjust="spacingAndGlyphs">96%</text>
<text x="2322" y="389" font-size="17" text-anchor="middle" font-weight="bold" textLength="33" lengthAdjust="spacingAndGlyphs">84%</text>
<text x="0" y="0" font-size="23" text-anchor="middle" font-weight="bold" transform="translate(1930,485) rotate(-90)" textLength="190" lengthAdjust="spacingAndGlyphs">Degradation rate</text>
<g id="pc">
<polyline points="246.5,981.0 249.1,986.8 251.6,992.6 254.2,998.5 256.7,1004.4 259.3,1010.3 261.8,1016.3 264.4,1022.3 266.9,1028.2 269.5,1034.2 272.0,1040.1 274.6,1046.0 277.1,1051.8 279.7,1057.6 282.2,1063.3 284.8,1069.0 287.3,1074.5 289.9,1080.0 292.4,1085.4 295.0,1090.6 297.5,1095.9 300.1,1101.0 302.6,1106.1 305.2,1111.1 307.7,1116.1 310.3,1121.1 312.8,1126.1 315.4,1131.1 318.0,1136.1 320.5,1141.1 323.1,1146.1 325.6,1151.1 328.2,1156.2 330.7,1161.4 333.3,1166.6 335.8,1171.9 338.4,1177.2 340.9,1182.6 343.5,1188.0 346.0,1193.3 348.6,1198.7 351.1,1204.0 353.7,1209.3 356.2,1214.6 358.8,1219.8 361.3,1224.8 363.9,1229.8 366.4,1234.7 369.0,1239.4 371.5,1244.0 374.1,1248.5 376.6,1252.7 379.2,1256.8 381.7,1260.7 384.3,1264.4 386.9,1267.9 389.4,1271.1 392.0,1274.1 394.5,1276.8 397.1,1279.2 549.3,1416.1 701.6,1503.9 853.8,1559.1 1006.1,1577.0 1158.4,1610.1" fill="none" stroke="#ff0000" stroke-width="4.2" stroke-linejoin="round"/>
<rect x="235.3" y="969.9" width="19" height="19" fill="#000"/>
<rect x="387.6" y="1269.7" width="19" height="19" fill="#000"/>
<rect x="539.8" y="1406.6" width="19" height="19" fill="#000"/>
<rect x="692.1" y="1494.4" width="19" height="19" fill="#000"/>
<rect x="844.3" y="1549.6" width="19" height="19" fill="#000"/>
<rect x="996.6" y="1567.5" width="19" height="19" fill="#000"/>
<rect x="1148.9" y="1600.6" width="19" height="19" fill="#000"/>
<rect x="208" y="914" width="1026" height="765.5" fill="none" stroke="#000" stroke-width="4.6"/>
<line x1="244.8" y1="1679.5" x2="244.8" y2="1696.5" stroke="#000" stroke-width="4.0" />
<line x1="320.9" y1="1679.5" x2="320.9" y2="1689.5" stroke="#000" stroke-width="4.0" />
<line x1="397.1" y1="1679.5" x2="397.1" y2="1696.5" stroke="#000" stroke-width="4.0" />
<line x1="473.2" y1="1679.5" x2="473.2" y2="1689.5" stroke="#000" stroke-width="4.0" />
<line x1="549.3" y1="1679.5" x2="549.3" y2="1696.5" stroke="#000" stroke-width="4.0" />
<line x1="625.5" y1="1679.5" x2="625.5" y2="1689.5" stroke="#000" stroke-width="4.0" />
<line x1="701.6" y1="1679.5" x2="701.6" y2="1696.5" stroke="#000" stroke-width="4.0" />
<line x1="777.7" y1="1679.5" x2="777.7" y2="1689.5" stroke="#000" stroke-width="4.0" />
<line x1="853.8" y1="1679.5" x2="853.8" y2="1696.5" stroke="#000" stroke-width="4.0" />
<line x1="930" y1="1679.5" x2="930" y2="1689.5" stroke="#000" stroke-width="4.0" />
<line x1="1006.1" y1="1679.5" x2="1006.1" y2="1696.5" stroke="#000" stroke-width="4.0" />
<line x1="1082.2" y1="1679.5" x2="1082.2" y2="1689.5" stroke="#000" stroke-width="4.0" />
<line x1="1158.4" y1="1679.5" x2="1158.4" y2="1696.5" stroke="#000" stroke-width="4.0" />
<line x1="1234.5" y1="1679.5" x2="1234.5" y2="1689.5" stroke="#000" stroke-width="4.0" />
<line x1="198" y1="1679.4" x2="208" y2="1679.4" stroke="#000" stroke-width="4.0" />
<line x1="190" y1="1615.8" x2="208" y2="1615.8" stroke="#000" stroke-width="4.0" />
<line x1="198" y1="1552.2" x2="208" y2="1552.2" stroke="#000" stroke-width="4.0" />
<line x1="190" y1="1488.5" x2="208" y2="1488.5" stroke="#000" stroke-width="4.0" />
<line x1="198" y1="1424.9" x2="208" y2="1424.9" stroke="#000" stroke-width="4.0" />
<line x1="190" y1="1361.2" x2="208" y2="1361.2" stroke="#000" stroke-width="4.0" />
<line x1="198" y1="1297.6" x2="208" y2="1297.6" stroke="#000" stroke-width="4.0" />
<line x1="190" y1="1234" x2="208" y2="1234" stroke="#000" stroke-width="4.0" />
<line x1="198" y1="1170.3" x2="208" y2="1170.3" stroke="#000" stroke-width="4.0" />
<line x1="190" y1="1106.7" x2="208" y2="1106.7" stroke="#000" stroke-width="4.0" />
<line x1="198" y1="1043" x2="208" y2="1043" stroke="#000" stroke-width="4.0" />
<line x1="190" y1="979.4" x2="208" y2="979.4" stroke="#000" stroke-width="4.0" />
<line x1="198" y1="915.8" x2="208" y2="915.8" stroke="#000" stroke-width="4.0" />
</g>
<text x="243.8" y="1740.5" font-size="47" text-anchor="middle" >0</text>
<text x="396.1" y="1740.5" font-size="47" text-anchor="middle" >2</text>
<text x="548.3" y="1740.5" font-size="47" text-anchor="middle" >4</text>
<text x="700.6" y="1740.5" font-size="47" text-anchor="middle" >6</text>
<text x="852.8" y="1740.5" font-size="47" text-anchor="middle" >8</text>
<text x="1005.1" y="1740.5" font-size="47" text-anchor="middle" >10</text>
<text x="1157.4" y="1740.5" font-size="47" text-anchor="middle" >12</text>
<text x="181" y="1628" font-size="47" text-anchor="end" >0.0</text>
<text x="181" y="1500.7" font-size="47" text-anchor="end" >0.2</text>
<text x="181" y="1373.4" font-size="47" text-anchor="end" >0.4</text>
<text x="181" y="1246.2" font-size="47" text-anchor="end" >0.6</text>
<text x="181" y="1118.9" font-size="47" text-anchor="end" >0.8</text>
<text x="181" y="991.6" font-size="47" text-anchor="end" >1.0</text>
<text transform="translate(93.8,1367.3) rotate(-90)" font-size="47">C/C<tspan font-size="29.5" dy="18.2">0</tspan></text>
<text x="639.4" y="1781.2" font-size="47" text-anchor="start" >t (min)</text>
<text x="269.3" y="994.5" font-size="78">(</text>
<text transform="translate(295.6,994.5) scale(0.99,1)" font-size="78">c</text>
<text x="335.4" y="994.5" font-size="78">)</text>
<g id="pd">
<line x1="1472.9" y1="961" x2="2346.4" y2="1529.5" stroke="#ff0000" stroke-width="4.2"/>
<rect x="1463.5" y="975.2" width="16" height="16" fill="#000"/>
<rect x="1608.9" y="1062.5" width="16" height="16" fill="#000"/>
<rect x="1756.2" y="1134.3" width="16" height="16" fill="#000"/>
<rect x="1901.7" y="1216" width="16" height="16" fill="#000"/>
<rect x="2047.1" y="1307.1" width="16" height="16" fill="#000"/>
<rect x="2192.5" y="1359.1" width="16" height="16" fill="#000"/>
<rect x="2338.4" y="1603.2" width="16" height="16" fill="#000"/>
<rect x="1401" y="915.5" width="1019.7" height="758.3" fill="none" stroke="#000" stroke-width="4.6"/>
<line x1="1400.7" y1="1673.8" x2="1400.7" y2="1683.8" stroke="#000" stroke-width="4.0" />
<line x1="1473.5" y1="1673.8" x2="1473.5" y2="1690.8" stroke="#000" stroke-width="4.0" />
<line x1="1546.3" y1="1673.8" x2="1546.3" y2="1683.8" stroke="#000" stroke-width="4.0" />
<line x1="1619.2" y1="1673.8" x2="1619.2" y2="1690.8" stroke="#000" stroke-width="4.0" />
<line x1="1692" y1="1673.8" x2="1692" y2="1683.8" stroke="#000" stroke-width="4.0" />
<line x1="1764.8" y1="1673.8" x2="1764.8" y2="1690.8" stroke="#000" stroke-width="4.0" />
<line x1="1837.7" y1="1673.8" x2="1837.7" y2="1683.8" stroke="#000" stroke-width="4.0" />
<line x1="1910.5" y1="1673.8" x2="1910.5" y2="1690.8" stroke="#000" stroke-width="4.0" />
<line x1="1983.3" y1="1673.8" x2="1983.3" y2="1683.8" stroke="#000" stroke-width="4.0" />
<line x1="2056.1" y1="1673.8" x2="2056.1" y2="1690.8" stroke="#000" stroke-width="4.0" />
<line x1="2129" y1="1673.8" x2="2129" y2="1683.8" stroke="#000" stroke-width="4.0" />
<line x1="2201.8" y1="1673.8" x2="2201.8" y2="1690.8" stroke="#000" stroke-width="4.0" />
<line x1="2274.6" y1="1673.8" x2="2274.6" y2="1683.8" stroke="#000" stroke-width="4.0" />
<line x1="2347.5" y1="1673.8" x2="2347.5" y2="1690.8" stroke="#000" stroke-width="4.0" />
<line x1="2420.3" y1="1673.8" x2="2420.3" y2="1683.8" stroke="#000" stroke-width="4.0" />
<line x1="1391" y1="914.6" x2="1401" y2="914.6" stroke="#000" stroke-width="4.0" />
<line x1="1383" y1="983.5" x2="1401" y2="983.5" stroke="#000" stroke-width="4.0" />
<line x1="1391" y1="1052.4" x2="1401" y2="1052.4" stroke="#000" stroke-width="4.0" />
<line x1="1383" y1="1121.3" x2="1401" y2="1121.3" stroke="#000" stroke-width="4.0" />
<line x1="1391" y1="1190.2" x2="1401" y2="1190.2" stroke="#000" stroke-width="4.0" />
<line x1="1383" y1="1259.1" x2="1401" y2="1259.1" stroke="#000" stroke-width="4.0" />
<line x1="1391" y1="1328" x2="1401" y2="1328" stroke="#000" stroke-width="4.0" />
<line x1="1383" y1="1396.9" x2="1401" y2="1396.9" stroke="#000" stroke-width="4.0" />
<line x1="1391" y1="1465.8" x2="1401" y2="1465.8" stroke="#000" stroke-width="4.0" />
<line x1="1383" y1="1534.7" x2="1401" y2="1534.7" stroke="#000" stroke-width="4.0" />
<line x1="1391" y1="1603.6" x2="1401" y2="1603.6" stroke="#000" stroke-width="4.0" />
<line x1="1383" y1="1672.5" x2="1401" y2="1672.5" stroke="#000" stroke-width="4.0" />
</g>
<text x="1473" y="1732.6" font-size="46" text-anchor="middle" >0</text>
<text x="1618.7" y="1732.6" font-size="46" text-anchor="middle" >2</text>
<text x="1764.3" y="1732.6" font-size="46" text-anchor="middle" >4</text>
<text x="1910" y="1732.6" font-size="46" text-anchor="middle" >6</text>
<text x="2055.6" y="1732.6" font-size="46" text-anchor="middle" >8</text>
<text x="2201.3" y="1732.6" font-size="46" text-anchor="middle" >10</text>
<text x="2347" y="1732.6" font-size="46" text-anchor="middle" >12</text>
<text x="1374.5" y="996.5" font-size="46" text-anchor="end" >0</text>
<text x="1374.5" y="1134.3" font-size="46" text-anchor="end" >-1</text>
<text x="1374.5" y="1272.1" font-size="46" text-anchor="end" >-2</text>
<text x="1374.5" y="1409.9" font-size="46" text-anchor="end" >-3</text>
<text x="1374.5" y="1547.7" font-size="46" text-anchor="end" >-4</text>
<text x="1374.5" y="1685.5" font-size="46" text-anchor="end" >-5</text>
<text transform="translate(1305.9,1403) rotate(-90)" font-size="46">ln(C/C<tspan font-size="30" dy="18.8">0</tspan><tspan dy="-18.8">)</tspan></text>
<text x="1844.3" y="1778.5" font-size="46" text-anchor="start" >t (min)</text>
<text x="1527.3" y="990" font-size="78">(</text>
<text transform="translate(1555.9,990) scale(1.134,1)" font-size="78">d</text>
<text x="1603.4" y="990" font-size="78">)</text>
<text x="1655.7" y="1379.8" font-size="45.8">k=0.7919 min</text>
<text x="1931.3" y="1354.6" font-size="27" textLength="16.5" lengthAdjust="spacingAndGlyphs">-1</text>
</svg>
</body></html>
